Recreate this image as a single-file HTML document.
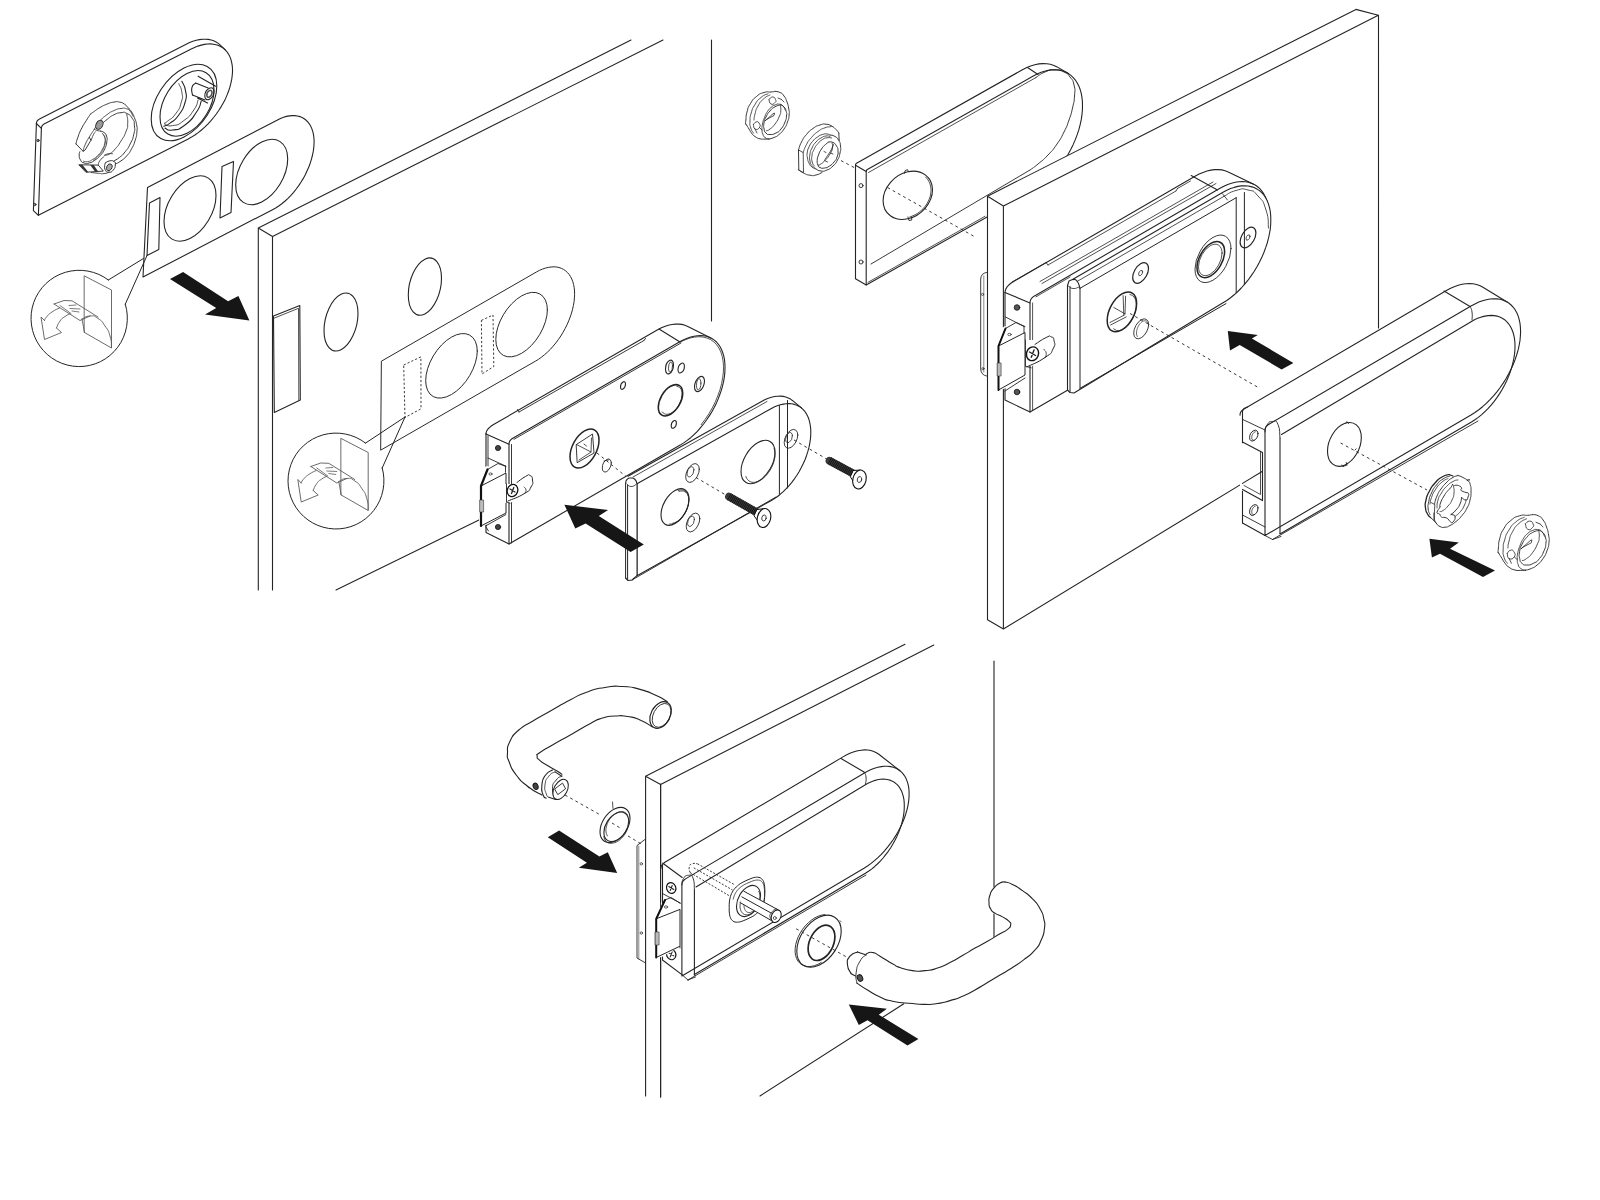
<!DOCTYPE html>
<html><head><meta charset="utf-8"><title>Lock assembly diagram</title>
<style>html,body{margin:0;padding:0;background:#fff}svg{display:block}</style></head>
<body>
<svg width="1600" height="1200" viewBox="0 0 1600 1200" fill="none" stroke="#242424" stroke-width="1.1" stroke-linecap="round" stroke-linejoin="round">
<rect x="0" y="0" width="1600" height="1200" fill="#ffffff" stroke="none"/>
<path d="M258.3,228 L258.3,590 M272.5,236.5 L272.5,590 M258.3,228 L272.5,236.5 M258.3,228 L631,40 M272.5,236.5 L663,40 M711.5,40 L711.5,321 M336,590 L481,519" fill="none"/>
<polygon points="273.5,316 299.8,305.5 300.3,400 274.3,412.5" fill="none"/>
<polyline points="274.5,318 298.5,308.3 298.8,400" fill="none" stroke-width="0.8"/>
<ellipse cx="0" cy="0" rx="17" ry="27.7" transform="matrix(1,-0.500,0.000,1,341,322)" vector-effect="non-scaling-stroke" fill="none"/>
<ellipse cx="0" cy="0" rx="16.6" ry="27.4" transform="matrix(1,-0.500,0.000,1,424.9,286.6)" vector-effect="non-scaling-stroke" fill="none"/>
<polygon points="381.7,361 536.4,272 539.4,270.4 542.4,269.1 545.4,268.1 548.3,267.4 551.1,267 553.9,266.8 556.5,267 559,267.5 561.3,268.3 563.5,269.4 565.6,270.8 567.4,272.5 569.1,274.4 570.5,276.6 571.8,279 572.8,281.7 573.6,284.6 574.2,287.7 574.5,291 574.6,294.4 574.4,297.9 574.1,301.6 573.4,305.4 572.6,309.2 571.5,313.1 570.2,317 568.7,320.9 567,324.8 565.1,328.6 563,332.3 560.8,336 558.4,339.5 555.9,342.9 553.2,346.1 550.5,349.2 547.6,352 544.7,354.6 541.7,357 538.7,359.2 535.7,361 381,450" fill="none" stroke-width="1" stroke="#2a2a2a"/>
<ellipse cx="0" cy="0" rx="25.8" ry="28.7" transform="matrix(1,-0.575,0.000,1,451.5,365.8)" vector-effect="non-scaling-stroke" fill="none" stroke-width="1" stroke="#2a2a2a"/>
<ellipse cx="0" cy="0" rx="25.8" ry="28.7" transform="matrix(1,-0.575,0.000,1,521.6,324.6)" vector-effect="non-scaling-stroke" fill="none" stroke-width="1" stroke="#2a2a2a"/>
<polygon points="403.7,365 420.9,356.9 421,408.8 405,417.5" fill="none" stroke-width="0.9" stroke-dasharray="2.2 2" stroke-linecap="butt"/>
<polygon points="481.4,320.4 493,315 493.8,366.5 482,374" fill="none" stroke-width="0.9" stroke-dasharray="2.2 2" stroke-linecap="butt"/>
<path d="M382.2,467.9 A48.0,48.0 0 1 1 365.5,443.1" fill="none" stroke-width="1"/>
<path d="M365.5,443.1 L405,417 M382.2,468 L405,417" fill="none" stroke-width="1"/>
<polygon points="341.2,438.5 368.2,452.5 368.2,510.5 341.2,495" fill="none" stroke-width="0.9" stroke="#5a5a5a"/>
<path d="M338.8,481.5 C341.4,480.5 341.4,478.7 346.8,478.5 C352.1,478.3 349.8,477.7 354.8,481 C359.8,484.3 357.8,482.7 361.8,488.5 C365.8,494.3 364.6,491.3 366.8,498.5 C368.9,505.7 367.8,506.2 368.2,510" fill="none" stroke-width="0.9" stroke="#5a5a5a"/>
<polyline points="338.8,481.5 341.2,495" fill="none" stroke-width="0.9" stroke="#5a5a5a"/>
<polyline points="310.8,466.5 320.8,463 328.8,463.3 354.8,479.5" fill="none" stroke-width="0.9" stroke="#5a5a5a"/>
<polyline points="310.8,466.5 336.8,483 346.8,478.5" fill="none" stroke-width="0.9" stroke="#5a5a5a"/>
<path d="M316.8,468 L327.8,476 M325.8,468 L332.8,467.5 M326.8,471 L336.8,471.5 M328.8,473.5 L335.8,474.5" fill="none" stroke-width="0.8" stroke="#5a5a5a"/>
<path d="M316.2,470.5 C313.8,471.8 313.1,471.5 308.8,474.5 C304.4,477.5 305.8,476.7 303.2,479.5 C300.8,482.3 301.9,481.8 301.2,483" fill="none" stroke-width="0.9" stroke="#5a5a5a"/>
<polyline points="301.2,483 297.8,479.5 301.2,502 318.2,495 313.2,490.5" fill="none" stroke-width="0.9" stroke="#5a5a5a"/>
<path d="M313.2,490.5 C314.4,488.2 313.9,487.3 316.8,483.5 C319.6,479.7 318.4,481.4 321.8,479 C325.1,476.6 325.1,477.2 326.8,476.3" fill="none" stroke-width="0.9" stroke="#5a5a5a"/>
<polygon points="147.5,187.5 277.5,119.9 280.5,118.5 283.5,117.3 286.5,116.4 289.4,115.9 292.2,115.6 294.8,115.6 297.4,116 299.9,116.6 302.1,117.5 304.2,118.8 306.2,120.3 307.9,122 309.5,124.1 310.8,126.4 311.9,128.9 312.8,131.7 313.5,134.6 313.9,137.7 314.1,141 314,144.5 313.7,148.1 313.2,151.7 312.4,155.5 311.4,159.3 310.2,163.2 308.8,167 307.1,170.8 305.3,174.7 303.3,178.4 301.1,182 298.7,185.6 296.2,189 293.6,192.3 290.9,195.4 288,198.3 285.1,201 282.1,203.5 279.1,205.7 276.1,207.7 273,209.4 143,277" fill="none"/>
<polygon points="149.5,203 160,197.5 158.8,249.5 147,255.5" fill="none"/>
<polygon points="222,166.5 233.5,161.5 231,212.5 220,218" fill="none"/>
<ellipse cx="0" cy="0" rx="26" ry="30" transform="matrix(1,-0.500,0.000,1,190,208.5)" vector-effect="non-scaling-stroke" fill="none"/>
<ellipse cx="0" cy="0" rx="26" ry="30" transform="matrix(1,-0.500,0.000,1,261.7,172)" vector-effect="non-scaling-stroke" fill="none"/>
<path d="M125.3,304.2 A48.2,48.2 0 1 1 108.4,280.0" fill="none" stroke-width="1"/>
<path d="M108.3,280 L143.5,258.5 M125.3,304.2 L147,255.5" fill="none" stroke-width="1"/>
<polygon points="84.5,276 111.5,290 111.5,348 84.5,332.5" fill="none" stroke-width="0.9" stroke="#5a5a5a"/>
<path d="M82,319 C84.7,318 84.7,316.2 90,316 C95.3,315.8 93,315.2 98,318.5 C103,321.8 101,320.2 105,326 C109,331.8 107.8,328.8 110,336 C112.2,343.2 111,343.7 111.5,347.5" fill="none" stroke-width="0.9" stroke="#5a5a5a"/>
<polyline points="82,319 84.5,332.5" fill="none" stroke-width="0.9" stroke="#5a5a5a"/>
<polyline points="54,304 64,300.5 72,300.8 98,317" fill="none" stroke-width="0.9" stroke="#5a5a5a"/>
<polyline points="54,304 80,320.5 90,316" fill="none" stroke-width="0.9" stroke="#5a5a5a"/>
<path d="M60,305.5 L71,313.5 M69,305.5 L76,305 M70,308.5 L80,309 M72,311 L79,312" fill="none" stroke-width="0.8" stroke="#5a5a5a"/>
<path d="M59.5,308 C57,309.3 56.3,309 52,312 C47.7,315 49,314.2 46.5,317 C44,319.8 45.2,319.3 44.5,320.5" fill="none" stroke-width="0.9" stroke="#5a5a5a"/>
<polyline points="44.5,320.5 41,317 44.5,339.5 61.5,332.5 56.5,328" fill="none" stroke-width="0.9" stroke="#5a5a5a"/>
<path d="M56.5,328 C57.7,325.7 57.2,324.8 60,321 C62.8,317.2 61.7,318.9 65,316.5 C68.3,314.1 68.3,314.7 70,313.8" fill="none" stroke-width="0.9" stroke="#5a5a5a"/>
<polygon points="36.4,123.5 36.5,122.6 36.8,121.7 37.2,120.9 37.8,120.2 38.6,119.6 39.5,119 186.2,44.2 189.6,42.6 192.9,41.3 196.2,40.3 199.4,39.6 202.6,39.3 205.6,39.2 208.4,39.4 211.2,40 213.7,40.8 216.1,42 218.3,43.4 220.3,45.2 225.3,49.9 226.5,51.3 227.7,52.8 228.7,54.4 229.6,56.2 230.4,58 231.1,60 231.6,62 232,64.2 232.3,66.4 232.5,68.8 232.5,71.2 232.4,73.7 232.2,76.2 231.8,78.8 231.3,81.4 230.7,84.1 230,86.8 229.1,89.5 228.2,92.3 227.1,95 225.9,97.8 224.6,100.5 223.2,103.2 221.6,105.9 220,108.5 218.3,111.1 216.5,113.7 214.7,116.2 212.7,118.6 210.7,120.9 208.6,123.2 206.5,125.4 204.3,127.5 202.1,129.5 199.8,131.3 197.5,133.1 195.2,134.7 192.9,136.3 190.5,137.7 188.2,138.9 38.4,215.3 33.4,210.6" fill="#fff" stroke="none"/>
<polyline points="36.4,123.5 36.5,122.6 36.8,121.7 37.2,120.9 37.8,120.2 38.6,119.6 39.5,119 186.2,44.2 189.6,42.6 192.9,41.3 196.2,40.3 199.4,39.6 202.6,39.3 205.6,39.2 208.4,39.4 211.2,40 213.7,40.8 216.1,42 218.3,43.4 220.3,45.2 225.3,49.9" fill="none"/>
<polyline points="36.4,123.5 33.4,210.6 38.4,215.3" fill="none"/>
<path d="M36.4,123.5 L41.4,128.3" fill="none"/>
<polygon points="41.4,128.3 41.5,127.3 41.8,126.5 42.2,125.7 42.8,125 43.6,124.3 44.5,123.8 191.2,48.9 194.6,47.4 197.9,46.1 201.2,45.1 204.4,44.4 207.5,44 210.5,43.9 213.4,44.2 216.1,44.7 218.6,45.5 221,46.7 223.2,48.1 225.2,49.8 227,51.8 228.5,54.1 229.8,56.6 230.9,59.3 231.6,62.2 232.2,65.4 232.5,68.7 232.5,72.1 232.2,75.7 231.7,79.4 230.9,83.2 229.9,87.1 228.6,91 227.1,94.9 225.4,98.9 223.4,102.7 221.2,106.6 218.9,110.3 216.3,114 213.6,117.5 210.8,120.9 207.8,124.1 204.7,127.2 201.5,130 198.2,132.6 194.9,135 191.5,137.1 188.2,138.9 38.4,215.3" fill="none"/>
<circle cx="38" cy="140.5" r="1.2" fill="#999" stroke="#222" stroke-width="0.8"/><circle cx="34.8" cy="204.5" r="1.2" fill="#999" stroke="#222" stroke-width="0.8"/>
<ellipse cx="0" cy="0" rx="32.8" ry="34.4" transform="matrix(1,-0.500,0.000,1,184,102.5)" vector-effect="non-scaling-stroke" fill="none"/>
<ellipse cx="0" cy="0" rx="27" ry="29.9" transform="matrix(1,-0.500,0.000,1,187,103.4)" vector-effect="non-scaling-stroke" fill="none"/>
<path d="M181.9,81.2 C183.1,84.6 184.6,84.2 185.6,91.2 C186.7,98.3 187.3,94.6 185,102.5 C182.7,110.4 183.8,108.1 178.8,115 C173.8,121.9 175,119.4 170,123.1 C165,126.9 165.8,125.2 163.8,126.2" fill="none"/>
<path d="M178.8,83.8 C179.8,86.7 181,86.2 181.9,92.5 C182.7,98.8 183.3,95.4 181.2,102.5 C179.2,109.6 180.2,107.5 175.6,113.8 C171,120 171.2,118.1 167.5,121.2 C163.8,124.4 165.4,122.5 164.4,123.1" fill="none" stroke-width="0.8"/>
<path d="M165,128.1 C167.5,128.8 165.8,131 172.5,130 C179.2,129 177.1,130.8 185,125 C192.9,119.2 190.8,120.4 196.2,112.5 C201.7,104.6 199.6,105 201.2,101.2" fill="none"/>
<path d="M164.4,123.8 C167.1,124.4 166,126.7 172.5,125.6 C179,124.6 176.7,125.8 183.8,120.6 C190.8,115.4 189,116.9 193.8,110 C198.5,103.1 196.7,103.3 198.1,100" fill="none" stroke-width="0.8"/>
<path d="M195.6,83.1 C194.4,84.6 192.9,83.5 191.9,87.5 C190.8,91.5 192.3,92.5 192.5,95" fill="none"/>
<path d="M195.6,83.1 L208.1,88.1 M192.5,95 L205,100 M198.1,76.2 L215.6,86.2 M197.5,98.1 L207.5,103.1" fill="none"/>
<ellipse cx="0" cy="0" rx="4.6" ry="5.5" transform="matrix(1,-0.500,0.000,1,209.4,93.8)" vector-effect="non-scaling-stroke" fill="none"/>
<ellipse cx="0" cy="0" rx="2.6" ry="3.2" transform="matrix(1,-0.500,0.000,1,209.4,93.8)" vector-effect="non-scaling-stroke" fill="none" stroke-width="1.6" stroke="#555"/>
<path d="M76,143.9 C76.6,141.7 76,142.5 77.8,137.5 C79.6,132.5 78.5,134.7 81.3,129 C84.2,123.3 83.2,125.5 86.3,120.5 C89.4,115.5 89.1,116.2 90.5,114.1" fill="none" stroke-width="0.9"/>
<path d="M90.5,114.1 C91.5,113.4 90.3,114.1 93.4,112 C96.4,109.9 95.3,110.3 99.7,107.7 C104.2,105.2 102.1,106.1 106.8,104.2 C111.5,102.3 109.7,102.8 113.9,102.1 C118.2,101.4 116,101.4 119.6,102.1 C123.1,102.8 121.7,102.3 124.5,104.2 C127.4,106.1 125.7,105.2 128.1,107.7 C130.4,110.3 129.5,108.7 131.6,112 C133.7,115.3 132.8,113.4 134.4,117.7 C136.1,121.9 135.7,120 136.6,124.7 C137.4,129.5 137.4,126.6 136.9,131.8 C136.5,137 136.9,134.7 135.2,140.3 C133.4,146 134.4,143.6 131.6,148.8 C128.8,154 130.2,151.9 126.7,155.9 C123.1,159.9 124.8,158.1 121,160.9 C117.2,163.6 117.2,163 115.3,164.1" fill="none" stroke-width="0.9"/>
<polyline points="76,143.9 83.1,151.3 85.2,149.9 90.9,140.3 89.5,137.5" fill="none" stroke-width="0.9"/>
<path d="M83.1,151.3 C83.8,149.1 83,149.7 85.2,144.6 C87.5,139.5 86.8,141.2 89.8,136.1 C92.9,131 92.9,131.6 94.4,129.3" fill="none" stroke-width="0.8"/>
<path d="M94.4,129 C96.2,126.4 95.6,125.9 99.7,121.2 C103.9,116.5 102.1,118.4 106.8,114.8 C111.5,111.3 109.2,112.7 113.9,110.6 C118.6,108.5 116.7,109 121,108.5 C125.2,107.9 123.6,107.9 126.7,108.8 C129.7,109.8 128.1,108.8 130.2,111.3 C132.3,113.8 132.1,114.6 133,116.2" fill="none" stroke-width="0.8"/>
<path d="M102.6,123.3 C104.2,121.9 103.8,121.9 107.5,119.1 C111.3,116.2 109.4,117 113.9,114.8 C118.4,112.7 116.7,113.2 121,112.7 C125.2,112.2 122.9,111.5 126.7,113.4 C130.4,115.3 129.7,114.4 132.3,118.4 C134.9,122.4 134,120 134.4,125.5 C134.9,130.9 135.2,128.5 133.7,134.7 C132.3,140.8 133,138.2 130.2,143.9 C127.4,149.5 128.8,147.2 125.2,151.7 C121.7,156.1 123.4,154.3 119.6,157.3 C115.8,160.4 115.8,159.7 113.9,160.9" fill="none" stroke-width="0.9"/>
<path d="M126.7,114.1 C127,117.2 128,117.4 127.7,123.3 C127.5,129.2 128.2,125.9 125.9,131.8 C123.7,137.7 124.5,135.4 121,141 C117.5,146.7 119.1,144.6 115.3,148.8 C111.5,153.1 113.2,151.7 109.7,153.8 C106.1,155.9 106.4,154.7 104.7,155.2" fill="none" stroke-width="0.8"/>
<ellipse cx="99.4" cy="124.8" rx="3.3" ry="4.8" transform="rotate(28 99.4 124.8)" fill="#999" stroke="#222" stroke-width="0.9"/>
<path d="M100.5,131.1 C101.6,131.6 102,130.9 104,132.5 C106,134.2 105.5,133 106.5,136.1 C107.4,139.1 107.4,137.5 106.8,141.7 C106.2,146 106.8,144.3 104.7,148.8 C102.6,153.3 103.8,151.4 100.5,155.2 C97.1,159 98.6,157.6 94.8,160.2 C91,162.8 92.7,162 89.1,163 C85.6,163.9 87,163.9 84.2,163 C81.3,162 82.3,162.8 80.6,160.2 C79,157.6 79.4,158 79.2,155.2 C79,152.4 79.7,152.8 79.9,151.7" fill="none" stroke-width="0.9"/>
<path d="M102.2,133.2 C103.1,134.7 103.9,134.2 104.7,137.5 C105.5,140.8 105.5,139.1 104.7,143.2 C103.9,147.2 104.5,145.5 102.2,149.5 C100,153.5 101.2,151.9 98,155.2 C94.8,158.5 96.1,157.3 92.7,159.4 C89.2,161.6 90.8,161 87.7,161.6 C84.6,162.2 84.9,161.3 83.5,161.2" fill="none" stroke-width="0.7"/>
<path d="M103.3,134.7 C104,136.5 105.4,135.6 105.4,140.3 C105.4,145 105.4,143.9 103.3,148.8 C101.2,153.8 102.3,151.4 99,155.2 C95.7,159 95.3,158.5 93.4,160.2" fill="none" stroke-width="0.6"/>
<path d="M94.4,129.3 C95.3,129.7 94.9,129.8 96.9,130.4 C98.9,131 99.3,130.9 100.5,131.1" fill="none" stroke-width="0.8"/>
<path d="M91.2,140.3 C92,138.4 92,137.5 93.4,134.7 C94.8,131.8 94.8,132.8 95.5,131.8" fill="none" stroke-width="0.8"/>
<path d="M104.7,155.2 C105.9,154.7 105.6,154.3 108.2,153.8 C110.8,153.3 111.1,153.8 112.5,153.8" fill="none" stroke-width="0.8"/>
<path d="M104,156.6 C102.6,158 101.6,158 99.7,160.9 C97.9,163.7 98.8,163.7 98.3,165.1" fill="none" stroke-width="0.8"/>
<path d="M105.4,163 C106.8,162.3 106.8,161.3 109.7,160.9 C112.5,160.4 112,160.3 113.9,161.6 C115.8,162.9 115.6,161.9 115.3,164.8 C115.1,167.6 115.3,167.6 113.2,170.1 C111.1,172.5 111.5,172.2 109,172.2 C106.4,172.2 106.8,172.2 105.4,170.1 C104,167.9 104.7,168.2 104.7,165.8 C104.7,163.5 105.2,163.9 105.4,163" fill="none" stroke-width="0.9"/>
<ellipse cx="109.3" cy="167.3" rx="2.6" ry="3.6" transform="rotate(28 109.3 167.3)" fill="#aaa" stroke="#222" stroke-width="0.8"/>
<polygon points="79.2,164.8 98.3,165.1 103.3,171.1 86.3,172.2" fill="none" stroke-width="0.9"/>
<polygon points="79.2,164.8 82.4,164.8 88.4,172.2 86.3,172.2" fill="#333" stroke="none"/>
<polygon points="90.2,165.1 93.7,165.1 98.3,171.8 95.1,171.8" fill="#333" stroke="none"/>
<path d="M109,172.2 C107.3,172.7 107.5,173.3 104,173.6 C100.5,174 102.6,173.6 98.3,173.3 C94.1,172.9 93.6,172.8 91.2,172.5" fill="none" stroke-width="0.8"/>
<polygon points="183.1,271.9 170,279.1 216.2,308.1 205,314.4 249.4,320.6 238.4,295.9 228.1,301.2" fill="#161616" stroke="none"/>
<polygon points="486,433.9 486.2,432.2 486.9,430.6 488,429 489.6,427.4 491.6,425.8 494,424.3 657.2,330.1 660.9,328.1 664.6,326.5 668.3,325.3 671.9,324.5 675.4,324.1 678.7,324.1 681.9,324.4 684.9,325.2 687.8,326.4 710.8,337.9 712.7,339 714.5,340.2 716.1,341.7 717.7,343.3 719.1,345.2 720.3,347.2 721.4,349.3 722.4,351.7 723.2,354.1 723.9,356.7 724.4,359.5 724.8,362.3 725,365.3 725,368.4 724.9,371.5 724.6,374.8 724.2,378.1 723.6,381.4 722.8,384.8 721.9,388.3 720.8,391.7 719.6,395.2 718.3,398.6 716.8,402.1 715.2,405.5 713.5,408.8 711.6,412.1 709.7,415.4 707.6,418.5 705.4,421.6 703.2,424.6 700.8,427.4 698.4,430.1 695.9,432.7 693.4,435.2 690.8,437.5 688.2,439.7 685.5,441.7 682.9,443.5 680.2,445.1 509,543.9 486,532.4" fill="#fff" stroke="none"/>
<polyline points="486,433.9 486.2,432.2 486.9,430.6 488,429 489.6,427.4 491.6,425.8 494,424.3 657.2,330.1 660.9,328.1 664.6,326.5 668.3,325.3 671.9,324.5 675.4,324.1 678.7,324.1 681.9,324.4 684.9,325.2 687.8,326.4 710.8,337.9" fill="none"/>
<polyline points="486,433.9 486,532.4 509,543.9" fill="none"/>
<path d="M486,433.9 L509,444.2" fill="none"/>
<polygon points="509,444.2 509.1,443 509.4,441.8 509.9,440.8 510.7,439.8 511.6,439 512.8,438.2 680.2,341.6 683.7,339.7 687.2,338.2 690.7,337 694,336.2 697.4,335.7 700.5,335.5 703.6,335.7 706.5,336.3 709.3,337.2 711.9,338.5 714.3,340.1 716.5,342 718.4,344.3 720.1,346.8 721.6,349.7 722.8,352.8 723.8,356.1 724.5,359.7 724.9,363.5 725,367.5 724.9,371.6 724.5,375.9 723.8,380.3 722.8,384.8 721.6,389.3 720.1,393.8 718.4,398.4 716.5,402.9 714.3,407.3 711.9,411.7 709.3,415.9 706.5,420 703.6,424 700.5,427.7 697.4,431.3 694,434.6 690.7,437.7 687.2,440.4 683.7,442.9 680.2,445.1 509,543.9" fill="none"/>
<path d="M511.5,444.5 L511.5,543 M514,439.3 L681,343" fill="none" stroke-width="0.9"/>
<polyline points="680.3,342 685.1,339.8 689.8,338.1 694.4,337.1 698.8,336.7 703,337 706.9,338 710.5,339.5 713.7,341.8 716.5,344.6 718.9,348 720.8,351.9 722.2,356.3 723.1,361.1 723.5,366.3 723.4,371.9 722.7,377.6 721.6,383.6 720,389.7 717.8,395.8 715.3,401.9 712.3,407.9 708.9,413.8 705.1,419.4 701.1,424.7" fill="none" stroke-width="0.8"/>
<path d="M659,329 L680,342" fill="none"/>
<path d="M519,412 L644,340.5 M644,340.5 L645.5,338.5 M519,412 L517.5,409.5" fill="none" stroke-width="0.9"/>
<ellipse cx="0" cy="0" rx="4" ry="6.5" transform="matrix(1,-0.577,0.000,1,669.5,367)" vector-effect="non-scaling-stroke" fill="none"/>
<ellipse cx="0" cy="0" rx="2" ry="5" transform="matrix(1,-0.577,0.000,1,670.5,367)" vector-effect="non-scaling-stroke" fill="none" stroke-width="0.8"/>
<ellipse cx="0" cy="0" rx="3.2" ry="4.6" transform="matrix(1,-0.577,0.000,1,681.2,368)" vector-effect="non-scaling-stroke" fill="none"/>
<ellipse cx="0" cy="0" rx="5" ry="7" transform="matrix(1,-0.577,0.000,1,699.5,384)" vector-effect="non-scaling-stroke" fill="none"/>
<ellipse cx="0" cy="0" rx="2.2" ry="5.5" transform="matrix(1,-0.577,0.000,1,698.7,384.3)" vector-effect="non-scaling-stroke" fill="none" stroke-width="0.8"/>
<ellipse cx="0" cy="0" rx="2.5" ry="3.6" transform="matrix(1,-0.577,0.000,1,623,385.5)" vector-effect="non-scaling-stroke" fill="none"/>
<ellipse cx="0" cy="0" rx="2.6" ry="3.6" transform="matrix(1,-0.577,0.000,1,673.8,424.4)" vector-effect="non-scaling-stroke" fill="none"/>
<ellipse cx="0" cy="0" rx="12.2" ry="14" transform="matrix(1,-0.577,0.000,1,670.5,400.3)" vector-effect="non-scaling-stroke" fill="none" stroke-width="1.6"/>
<polyline points="676.8,386.3 678.1,386.6 679.3,387.3 680.3,388.2 681.1,389.4 681.7,390.9 682,392.6 682.1,394.5 681.9,396.5 681.5,398.6 680.9,400.7 680,402.8 679,404.9 677.8,406.8 676.4,408.7 674.9,410.3 673.3,411.6 671.7,412.8 670.1,413.6 668.5,414.1 667,414.3 665.6,414.2 664.3,413.7 663.2,413 662.3,411.9" fill="none" stroke-width="0.8"/>
<ellipse cx="0" cy="0" rx="14.5" ry="17.6" transform="matrix(1,-0.577,0.000,1,584.5,448.5)" vector-effect="non-scaling-stroke" fill="none" stroke-width="1.5"/>
<polygon points="576.5,444.5 592.5,434 594,453 577.5,462.5" fill="none" stroke-width="0.9"/>
<polyline points="579,460 591,452 591.5,438" fill="none" stroke-width="0.8"/>
<path d="M576.5,444.5 L591,452 M584,444 L586.5,446" fill="none" stroke-width="0.8"/>
<ellipse cx="0" cy="0" rx="4.5" ry="6" transform="matrix(1,-0.577,0.000,1,606.8,465.5)" vector-effect="non-scaling-stroke" fill="none" stroke-width="0.9"/>
<path d="M604,461 L608.5,460" fill="none" stroke-width="0.8"/>
<circle cx="498" cy="448" r="2.6" fill="#444" stroke="#111" stroke-width="0.8"/>
<circle cx="498" cy="527" r="2.6" fill="#444" stroke="#111" stroke-width="0.8"/>
<path d="M488,458 L505.5,466 M505.5,466 L505.5,484 M488,436 L488,470" fill="none" stroke-width="0.9"/>
<polygon points="479,470 487,466 506.5,473 506.5,513 488,524 479,528" fill="#fff" stroke="none"/>
<polyline points="487.5,469.5 498,463.5 506,466.5" fill="none" stroke-width="0.9"/>
<polyline points="487.5,469.5 481,486 506,473 506,513 481,526" fill="none" stroke-width="1"/>
<polyline points="487.5,469.5 481,486 481,526" fill="none" stroke-width="2.2" stroke="#111"/>
<rect x="480" y="500" width="3.6" height="12" fill="#bbb" stroke="#333" stroke-width="0.6"/>
<ellipse cx="490.5" cy="474" rx="1.6" ry="1.1" fill="#fff" stroke="#222" stroke-width="0.7"/>
<path d="M486,527 L488.5,531 M485.5,526 L506,514.5" fill="none" stroke-width="0.9"/>
<polygon points="505,484 513,484 513,502 505,503" fill="#fff" stroke="none"/>
<path d="M508,501 C513.5,498.5 516.8,498.2 524.5,493.5 C532.2,488.8 528.3,491.5 531,487 C533.7,482.5 532.8,483.8 532.5,480 C532.2,476.2 532.3,476.7 530,475.5 C527.7,474.3 529.8,474.2 525.5,476.5 C521.2,478.8 519.8,480.5 517,482.5" fill="none" stroke-width="1"/>
<path d="M524.5,493.5 C525,492.3 526.2,492.2 526,490 C525.8,487.8 524.7,488 524,487" fill="none" stroke-width="0.8"/>
<polyline points="506.5,502 510,503.2" fill="none" stroke-width="0.9"/>
<polyline points="506.5,484 506.5,502" fill="none" stroke-width="0.9"/>
<ellipse cx="512.5" cy="490.5" rx="5.2" ry="6.2" transform="rotate(20 512.5 490.5)" fill="#fff" stroke="#111" stroke-width="1.3"/>
<path d="M510,489 L515,492 M511.5,493.5 L513.8,487.5" fill="none" stroke-width="1.3"/>
<polygon points="628,476.2 762,401.2 765.2,399.6 768.3,398.2 771.5,397.2 774.5,396.5 777.5,396.2 780.4,396.1 783.1,396.4 785.8,397 788.2,397.9 790.5,399.1 792.7,400.7 801.7,408.2 803.1,409.5 804.3,410.9 805.5,412.4 806.6,414.1 807.5,415.9 808.4,417.9 809.1,420 809.7,422.1 810.2,424.4 810.5,426.8 810.7,429.3 810.8,431.8 810.8,434.4 810.6,437.1 810.3,439.8 809.9,442.6 809.4,445.5 808.7,448.3 808,451.2 807.1,454.1 806,457 804.9,459.9 803.7,462.7 802.3,465.6 800.9,468.4 799.4,471.1 797.7,473.9 796,476.5 794.2,479.1 792.4,481.6 790.4,484 788.4,486.3 786.4,488.5 784.3,490.7 782.1,492.7 779.9,494.5 777.7,496.3 775.5,497.9 773.3,499.4 771,500.7 637,575.8 628,568.2" fill="#fff" stroke="none"/>
<polyline points="628,476.2 762,401.2 765.2,399.6 768.3,398.2 771.5,397.2 774.5,396.5 777.5,396.2 780.4,396.1 783.1,396.4 785.8,397 788.2,397.9 790.5,399.1 792.7,400.7 801.7,408.2" fill="none"/>
<polygon points="637,483.8 771,408.7 774.1,407.1 777.2,405.8 780.3,404.8 783.3,404.1 786.2,403.7 789.1,403.6 791.8,403.8 794.4,404.4 796.9,405.2 799.2,406.4 801.3,407.9 803.2,409.6 805,411.7 806.5,413.9 807.8,416.5 808.9,419.3 809.7,422.3 810.3,425.5 810.7,428.9 810.8,432.4 810.7,436.1 810.3,439.9 809.7,443.8 808.9,447.7 807.8,451.7 806.5,455.7 805,459.7 803.2,463.7 801.3,467.6 799.2,471.5 796.9,475.2 794.4,478.8 791.8,482.3 789.1,485.6 786.2,488.7 783.3,491.6 780.3,494.2 777.2,496.7 774.1,498.8 771,500.7 637,575.8" fill="none"/>
<polygon points="625.5,483 631,478 637,483.8 637,575.6 631,580 625.5,578" fill="#fff" stroke="none"/>
<path d="M625.6,483.5 L625.6,578 M627.6,485 L627.6,579.5 M637,483.8 L637,575.6" fill="none" stroke-width="1"/>
<path d="M625.6,483.5 C626.1,482.2 625.2,481.3 627,479.5 C628.8,477.7 628.3,478 631,478 C633.7,478 633,477.6 635,479.5 C637,481.4 636.3,482.3 637,483.8" fill="none"/>
<path d="M627,484 C628.3,484.8 628,486.3 631,486.5 C634,486.7 634.3,485.2 636,484.5" fill="none" stroke-width="0.8"/>
<polyline points="625.6,578 628,580.5 632,580 637,575.6" fill="none"/>
<path d="M633,477 L767,401.5" fill="none" stroke-width="0.8"/>
<path d="M632,580 L776,497" fill="none" stroke-width="0.9"/>
<path d="M779.4,405.5 L779.4,494 M787.5,400.5 L787.5,488" fill="none" stroke-width="1"/>
<ellipse cx="0" cy="0" rx="17" ry="19.5" transform="matrix(1,-0.560,0.000,1,758,462)" vector-effect="non-scaling-stroke" fill="none"/>
<polyline points="774.1,448.5 774.6,450.4 774.9,452.6 775,454.9 774.8,457.4 774.3,459.9 773.6,462.5 772.7,465.1 771.5,467.6 770.1,470.1 768.6,472.4 766.9,474.6 765.1,476.5 763.2,478.3 761.3,479.7 759.3,480.8 757.4,481.7 755.5,482.2 753.7,482.4 751.9,482.2 750.4,481.7 748.9,480.9 747.7,479.7 746.7,478.3 745.9,476.5" fill="none" stroke-width="0.8"/>
<ellipse cx="0" cy="0" rx="14" ry="16.5" transform="matrix(1,-0.560,0.000,1,675,507)" vector-effect="non-scaling-stroke" fill="none"/>
<polyline points="678.2,490.5 680,490 681.7,489.9 683.3,490.2 684.8,490.8 686,491.8 687.1,493 687.9,494.6 688.5,496.5 688.8,498.5 688.8,500.7 688.5,503.1 688,505.6 687.3,508 686.3,510.5 685.1,512.9 683.6,515.2 682.1,517.2 680.4,519.1 678.6,520.7 676.7,522.1 674.9,523.1 673,523.7 671.3,524.1 669.6,524" fill="none" stroke-width="0.8"/>
<polyline points="679,491.5 680.6,491.1 682.1,491 683.6,491.2 684.8,491.7 686,492.5 687,493.6 687.7,494.9 688.3,496.5 688.7,498.2 688.8,500.2 688.7,502.2 688.4,504.4 687.9,506.6 687.1,508.8 686.2,511 685.1,513.1 683.8,515.1 682.4,516.9 681,518.5 679.4,520 677.8,521.1 676.1,522 674.5,522.7 673,523" fill="none" stroke-width="0.7"/>
<ellipse cx="0" cy="0" rx="6.8" ry="8.6" transform="matrix(1,-0.560,0.000,1,791,438.8)" vector-effect="non-scaling-stroke" fill="none" stroke-width="0.9"/>
<ellipse cx="0" cy="0" rx="3.4" ry="4.8" transform="matrix(1,-0.560,0.000,1,789,437.6)" vector-effect="non-scaling-stroke" fill="none" stroke-width="0.8"/>
<ellipse cx="0" cy="0" rx="6.8" ry="8.6" transform="matrix(1,-0.560,0.000,1,692.5,473)" vector-effect="non-scaling-stroke" fill="none" stroke-width="0.9"/>
<ellipse cx="0" cy="0" rx="3.4" ry="4.8" transform="matrix(1,-0.560,0.000,1,690.5,471.8)" vector-effect="non-scaling-stroke" fill="none" stroke-width="0.8"/>
<ellipse cx="0" cy="0" rx="6.8" ry="8.6" transform="matrix(1,-0.560,0.000,1,693,522.5)" vector-effect="non-scaling-stroke" fill="none" stroke-width="0.9"/>
<ellipse cx="0" cy="0" rx="3.4" ry="4.8" transform="matrix(1,-0.560,0.000,1,691,521.3)" vector-effect="non-scaling-stroke" fill="none" stroke-width="0.8"/>
<path d="M729.0,496.6 L758.8,513.5" stroke="#3a3a3a" stroke-width="7.8" stroke-linecap="round" fill="none"/>
<path d="M729.0,496.6 L758.8,513.5" stroke="#111" stroke-width="7.8" stroke-dasharray="0.8 1.0" stroke-linecap="butt" fill="none"/>
<polygon points="757.2,509.5 765,508.5 762.5,527.5 754.2,516" fill="#fff" stroke="#111" stroke-width="1"/>
<ellipse cx="764.0" cy="518.0" rx="6.6" ry="9.6" transform="rotate(14 764.0 518.0)" fill="#fff" stroke="#111" stroke-width="1.1"/>
<ellipse cx="764.0" cy="518.0" rx="2.2" ry="3" transform="rotate(14 764.0 518.0)" fill="none" stroke="#222" stroke-width="0.8"/>
<path d="M829.5,460.8 L855.0,474.5" stroke="#3a3a3a" stroke-width="7.8" stroke-linecap="round" fill="none"/>
<path d="M829.5,460.8 L855.0,474.5" stroke="#111" stroke-width="7.8" stroke-dasharray="0.8 1.0" stroke-linecap="butt" fill="none"/>
<polygon points="853.5,470.5 860.5,470 858,489 850.5,477" fill="#fff" stroke="#111" stroke-width="1"/>
<ellipse cx="859.5" cy="479.5" rx="6.6" ry="9.6" transform="rotate(14 859.5 479.5)" fill="#fff" stroke="#111" stroke-width="1.1"/>
<ellipse cx="859.5" cy="479.5" rx="2.2" ry="3" transform="rotate(14 859.5 479.5)" fill="none" stroke="#222" stroke-width="0.8"/>
<path d="M696,477.5 L727.5,496 M794,440 L827,459.2 M597,453 L626,476.5" fill="none" stroke-width="0.9" stroke-dasharray="2.8 3.2" stroke-linecap="butt"/>
<polygon points="564.4,504.7 608.1,510 598.8,515.9 643.8,544.4 630.6,551.9 585.6,523.4 575.3,528.4" fill="#161616" stroke="none"/>
<polygon points="855.5,165.2 855.5,164.8 855.7,164.3 855.9,163.9 856.2,163.5 856.5,163.2 857,162.9 1022,70 1026.3,67.8 1030.6,66 1034.8,64.7 1038.9,63.9 1042.9,63.6 1046.8,63.7 1050.4,64.3 1053.9,65.4 1057.1,66.9 1067.8,73.2 1069.8,74.5 1071.7,76 1073.5,77.8 1075.1,79.7 1076.6,81.8 1077.9,84.1 1079.1,86.5 1080.1,89.2 1080.9,91.9 1081.6,94.9 1082.1,97.9 1082.4,101.1 1082.5,104.4 1082.5,107.8 1082.3,111.3 1082,114.9 1081.4,118.5 1080.7,122.2 1079.8,126 1078.8,129.7 1077.6,133.5 1076.2,137.3 1074.7,141 1073.1,144.8 1071.3,148.5 1069.4,152.1 1067.3,155.7 1065.1,159.2 1062.9,162.6 1060.5,165.9 1058,169.1 1055.4,172.2 1052.7,175.2 1050,178 1047.2,180.6 1044.4,183.1 1041.5,185.4 1038.6,187.6 1035.7,189.5 1032.8,191.3 866.2,285 855.5,278.8" fill="#fff" stroke="none"/>
<polyline points="855.5,165.2 855.5,164.8 855.7,164.3 855.9,163.9 856.2,163.5 856.5,163.2 857,162.9 1022,70 1026.3,67.8 1030.6,66 1034.8,64.7 1038.9,63.9 1042.9,63.6 1046.8,63.7 1050.4,64.3 1053.9,65.4 1057.1,66.9 1067.8,73.2" fill="none"/>
<polyline points="855.5,165.2 855.5,278.8 866.2,285" fill="none"/>
<path d="M855.5,165.2 L866.2,171.5" fill="none"/>
<polygon points="866.2,171.5 866.3,171 866.4,170.6 866.6,170.2 866.9,169.8 867.3,169.5 867.8,169.2 1032.8,76.3 1036.7,74.2 1040.5,72.6 1044.4,71.3 1048.1,70.4 1051.8,69.9 1055.4,69.8 1058.8,70.1 1062,70.8 1065.1,71.8 1068,73.3 1070.6,75.1 1073,77.3 1075.2,79.8 1077.1,82.7 1078.8,85.9 1080.1,89.3 1081.2,93.1 1081.9,97.1 1082.4,101.3 1082.5,105.7 1082.4,110.3 1081.9,115.1 1081.2,119.9 1080.1,124.9 1078.8,129.9 1077.1,134.9 1075.2,139.9 1073,144.9 1070.6,149.8 1068,154.6 1065.1,159.3 1062,163.8 1058.8,168.1 1055.4,172.3 1051.8,176.2 1048.1,179.8 1044.4,183.1 1040.5,186.2 1036.7,188.9 1032.8,191.3 866.2,285" fill="none"/>
<path d="M868.5,172.5 L1036,77.5 M868,282.3 L985,216.3" fill="none" stroke-width="0.8"/>
<path d="M1036,77.5 C1039,75.7 1038.7,74.6 1045,72 C1051.3,69.4 1048.7,69.8 1055,69.8 C1061.3,69.8 1059,69.6 1064,72 C1069,74.4 1066.7,72.7 1070,77 C1073.3,81.3 1072.5,78.7 1074,85 C1075.5,91.3 1075,88.3 1074.5,96 C1074,103.7 1074.3,100 1072.5,108 C1070.7,116 1071.8,112 1069,120 C1066.2,128 1068,124 1064,132 C1060,140 1062.3,136.3 1057,144 C1051.7,151.7 1054.3,148.3 1048,155 C1041.7,161.7 1044,159 1038,164 C1032,169 1032.7,168 1030,170" fill="none" stroke-width="0.9"/>
<path d="M1030,170 L871,264" fill="none" stroke-width="0.9"/>
<path d="M1027.5,67.5 L1038,74.5" fill="none"/>
<circle cx="861" cy="185.6" r="2" fill="none" stroke="#222" stroke-width="0.9"/><circle cx="861" cy="262" r="2" fill="none" stroke="#222" stroke-width="0.9"/>
<ellipse cx="0" cy="0" rx="24.7" ry="23.5" transform="matrix(1,-0.220,0.000,1,907.8,195.3)" vector-effect="non-scaling-stroke" fill="none"/>
<polyline points="904.5,173.3 905,170.8 907.5,169.6 908.6,171.8" fill="none" stroke-width="0.9"/>
<polyline points="908,217 909,220.5 911.8,220 911.5,217" fill="none" stroke-width="0.9"/>
<polyline points="925.6,177.1 926.9,178.4 928,179.9 928.9,181.5 929.7,183.2 930.3,185 930.7,186.9 931,188.8 931,190.8 930.8,192.9 930.5,195 930,197 929.2,199.1 928.3,201.1 927.3,203.1 926.1,205 924.7,206.8 923.2,208.6 921.5,210.2 919.8,211.7 917.9,213.1 916,214.3 914,215.3 911.9,216.2 909.8,217" fill="none" stroke-width="0.8"/>
<path d="M775,91.4 C773.7,91.6 774.7,91.6 771,92 C767.3,92.4 768.8,91 764,92.5 C759.2,94 761,92.8 756.5,96.5 C752,100.2 753.7,98.3 750.5,103.5 C747.3,108.7 748.5,106.5 747,112 C745.5,117.5 746.4,116.1 745.9,120 C745.4,123.9 745.7,122.5 745.6,123.8" fill="none" stroke-width="0.9"/>
<path d="M746.5,125 C747.3,126.3 747.3,126.3 749,129 C750.7,131.7 749.5,130.5 751.5,133 C753.5,135.5 752.2,134.6 755,136.5 C757.8,138.4 756.7,137.9 760,138.8 C763.3,139.6 762,139 765,139.1 C768,139.2 767.7,139 769,139" fill="none" stroke-width="0.9"/>
<polyline points="745.6,123.8 746.5,125" fill="none" stroke-width="0.9"/>
<path d="M768,93.8 C765.7,95 765.3,93.9 761,97.5 C756.7,101.1 758.2,99.3 755,104.5 C751.8,109.7 752.9,107.5 751.2,113 C749.6,118.5 750.2,116 750,121 C749.8,126 749.6,124 750.8,128 C751.9,132 752.6,131.3 753.5,133" fill="none" stroke-width="0.8"/>
<path d="M770,95 C767.8,96.3 767.5,95.3 763.5,99 C759.5,102.7 760.8,101 758,106 C755.2,111 756.3,109.3 755,114 C753.7,118.7 754.3,118 754,120" fill="none" stroke-width="0.8"/>
<path d="M775,91.4 C776.7,91.8 777,91 780,92.5 C783,94 781.7,92.8 784,96 C786.3,99.2 785.4,97.7 787,102 C788.6,106.3 788,104.7 788.8,109 C789.5,113.3 789.5,110.7 789.1,115 C788.7,119.3 789.2,117.3 787.5,122 C785.8,126.7 786.8,124.8 784,129 C781.2,133.2 782.3,131.7 779,134.5 C775.7,137.3 777.3,136 774,137.5 C770.7,139 770.7,138.5 769,139" fill="none" stroke-width="0.9"/>
<path d="M769,139 C767.7,138.5 767.1,139.2 765,137.5 C762.9,135.8 763.8,136.7 762.8,134 C761.8,131.3 762.1,132.8 762,129.5 C761.9,126.2 761.7,128 762.5,124 C763.3,120 762.8,121.7 764.5,117.5 C766.2,113.3 765.3,114.8 767.5,111.5 C769.7,108.2 768.5,109.7 771,107.5 C773.5,105.3 772.2,106.1 775,105 C777.8,103.9 776.8,103.9 779.5,104.2 C782.2,104.6 781.1,104.1 783,106 C784.9,107.9 784.5,108.7 785.2,110" fill="none" stroke-width="0.8"/>
<path d="M780.5,105 C781.7,105.7 782.1,104.8 784,107 C785.9,109.2 785.4,108.5 786.2,111.5 C787.1,114.5 786.9,112.5 786.5,116 C786.1,119.5 786.8,117.7 785,122 C783.2,126.3 784,125.3 781,129 C778,132.7 779.7,131.2 776,133 C772.3,134.8 773.3,134.5 770,134.5 C766.7,134.5 768,134.8 766,133 C764,131.2 764.8,132.3 764.1,129 C763.4,125.7 763.4,127 764,123 C764.6,119 764,121 766,117 C768,113 767,114.4 770,111 C773,107.6 771.5,108.8 775,106.8 C778.5,104.8 778.7,105.6 780.5,105" fill="none" stroke-width="0.9"/>
<path d="M780.5,106 C780.6,107.7 781.1,107.7 780.8,111 C780.4,114.3 781.4,111.7 779.5,116 C777.6,120.3 778.2,119.7 775,124 C771.8,128.3 772.9,126.8 770,129 C767.1,131.2 767.5,130.2 766.2,130.8" fill="none" stroke-width="0.8"/>
<polygon points="765.2,120.8 773,113.8 774.5,113 774,115.5 766.5,119.5" fill="none" stroke-width="0.8"/>
<path d="M769,99.5 C770.2,98.7 770.3,97 772.5,97 C774.7,97 774.7,97.7 775.5,99.5 C776.3,101.3 776.5,101 775,102.5 C773.5,104 773,105 771,104 C769,103 769.7,101 769,99.5" fill="none" stroke-width="0.8"/>
<path d="M753.5,124.5 C754.3,123.7 754.2,122.5 756,122 C757.8,121.5 757.8,121.2 759,123 C760.2,124.8 760.8,125.5 759.5,127.5 C758.2,129.5 757,130 755,129 C753,128 754,126 753.5,124.5" fill="none" stroke-width="0.8"/>
<path d="M778,98 L781.5,99.5 M781.5,99.5 L784,102 M759.5,127.5 L762,130 M755,129 L757,133" fill="none" stroke-width="0.8"/>
<path d="M798.5,150 C799.5,147.3 798.8,147.2 801.5,142 C804.2,136.8 802.7,139 806.5,134.5 C810.3,130 808.5,131.7 813,128.5 C817.5,125.3 815.7,126.4 820,125 C824.3,123.6 822.2,123.9 826,124.2 C829.8,124.6 828.2,124.2 831.5,126 C834.8,127.8 833.6,127.2 836,129.5 C838.4,131.8 837.8,131.8 838.8,133" fill="none" stroke-width="0.9"/>
<polyline points="838.8,133 839.2,140.5" fill="none" stroke-width="0.9"/>
<polyline points="798.5,150 798.8,170" fill="none" stroke-width="0.9"/>
<path d="M798.8,170 C800.3,171 799.8,171.2 803.5,173 C807.2,174.8 805.8,174.6 810,175.2 C814.2,175.9 812,175.9 816,175 C820,174.1 820,173.3 822,172.5" fill="none" stroke-width="0.9"/>
<path d="M803.2,152.5 C804.3,149.8 803.8,149.5 806.5,144.5 C809.2,139.5 807.7,141.8 811.5,137.5 C815.3,133.2 813.5,134.8 818,131.5 C822.5,128.2 821,129.3 825,127.8 C829,126.2 827.8,127.3 830,126.8 C832.2,126.2 831,126.2 831.5,126" fill="none" stroke-width="0.8"/>
<polyline points="798.5,150 803.2,152.5 803.5,172.6 798.8,170" fill="none" stroke-width="0.8"/>
<path d="M830,135 C829,134.7 829.5,134.2 827,134 C824.5,133.8 825.7,133.5 822.5,134.5 C819.3,135.5 820.8,134.7 817.5,137 C814.2,139.3 815.3,138.2 812.5,141.5 C809.7,144.8 810.8,143.2 809,147 C807.2,150.8 807.8,149.3 807.2,153 C806.8,156.7 806.9,154.7 807.5,158 C808.1,161.3 807.5,160 809,163 C810.5,166 809.7,165 812,167 C814.3,169 814.7,168.3 816,169" fill="none" stroke-width="0.8"/>
<path d="M830,136.6 C828.7,136.4 829,135.5 826,136 C823,136.5 824.3,136 821,138 C817.7,140 819,138.7 816,142 C813,145.3 814,144 812,148 C810,152 810.7,149.7 810,154 C809.3,158.3 809.3,157.2 810,161 C810.7,164.8 810.3,163.2 812,165.5 C813.7,167.8 814,167.2 815,168" fill="none" stroke-width="0.8"/>
<path d="M831.5,138 C830,137.9 830,137.2 827,137.8 C824,138.2 825.5,137.6 822.5,139.5 C819.5,141.4 820.8,140.2 818,143.5 C815.2,146.8 816,145.5 814,149.5 C812,153.5 812.6,151.3 812,155.5 C811.4,159.7 811.4,158.5 812.2,162 C813.1,165.5 813.8,164.7 814.5,166" fill="none" stroke-width="0.8"/>
<path d="M830,135 C831.7,135.5 832.1,134.7 835,136.5 C837.9,138.3 836.9,137.3 838.8,140.5 C840.6,143.7 840.1,141.8 840.5,146 C840.9,150.2 841,148.3 840,153 C839,157.7 839.8,155.7 837.5,160 C835.2,164.3 836.5,162.7 833,166 C829.5,169.3 831,168.3 827,170 C823,171.7 824.7,171.3 821,171 C817.3,170.7 817.7,169.7 816,169" fill="none" stroke-width="0.9"/>
<path d="M829,142 C830.3,142.2 830.5,141.2 833,142.5 C835.5,143.8 834.8,143.2 836.5,146 C838.2,148.8 837.8,147.3 838,151 C838.2,154.7 838.3,153.3 837,157 C835.7,160.7 836.5,159 834,162 C831.5,165 832.7,164 829.5,166 C826.3,168 827.7,167.5 824.5,168 C821.3,168.5 822.2,168.5 820,167.5 C817.8,166.5 818.9,167.3 818,165 C817.1,162.7 817.1,163.8 817.2,160.5 C817.4,157.2 817.1,158.8 818.5,155 C819.9,151.2 819.2,152.5 821.5,149 C823.8,145.5 823,146.8 825.5,144.5 C828,142.2 827.8,142.8 829,142" fill="none" stroke-width="0.9"/>
<path d="M832,143 C832.2,144.7 833.2,144.3 832.5,148 C831.8,151.7 832.5,149.8 830,154 C827.5,158.2 828.3,157 825,160.5 C821.7,164 822.2,163.1 820,164.5 C817.8,165.9 818.8,164.7 818.2,164.8" fill="none" stroke-width="0.8"/>
<path d="M825,159.5 L831,150.5 M831,150.5 L833.5,144.5 M824,151.5 L826,152.5 M824.5,160.5 L827.5,162 M830.5,153 L833,154" fill="none" stroke-width="0.8"/>
<path d="M841,160.6 L855,168 M887.5,187.5 L976,237.5" fill="none" stroke-width="0.9" stroke-dasharray="2.8 3.2" stroke-linecap="butt"/>
<polygon points="987.5,196.2 1355.9,9.4 1378.3,15.3 1378.5,400 1250,479 1003.4,629 987.5,619.7" fill="#fff" stroke="none"/>
<path d="M987.5,196.2 L987.5,619.7 M1003.4,206 L1003.4,629 M987.5,196.2 L1003.4,206 M987.5,619.7 L1003.4,629 M987.5,196.2 L1355.9,9.4 M1003.4,206 L1378.3,15.3 M1355.9,9.4 L1378.3,15.3 M1378.5,15.3 L1378.5,328 M1003.4,629 L1243,483.1" fill="none"/>
<path d="M986.5,272.5 C983,273 981,275 980.7,279 L980.7,369 C981,373 983,375.5 986.5,376" fill="none" stroke-width="0.9"/>
<path d="M983.8,276 L983.8,372" fill="none" stroke-width="0.7" stroke="#555"/>
<circle cx="982.6" cy="294.4" r="1.1" fill="none" stroke="#222" stroke-width="0.7"/><circle cx="983" cy="368.7" r="1.1" fill="none" stroke="#222" stroke-width="0.7"/>
<polygon points="1005,292.5 1005.3,290.5 1006,288.6 1007.2,286.7 1009,284.8 1011.2,283 1014,281.3 1195,176.3 1199.1,174.1 1203.1,172.4 1207,171 1210.9,170.1 1214.7,169.6 1218.3,169.6 1221.8,169.9 1225.1,170.7 1228.2,172 1253.2,184 1255.3,185.1 1257.3,186.5 1259.2,188.1 1260.9,189.8 1262.4,191.8 1263.9,194 1265.1,196.4 1266.2,198.9 1267.1,201.6 1267.9,204.4 1268.4,207.4 1268.9,210.6 1269.1,213.8 1269.1,217.2 1269,220.7 1268.7,224.2 1268.2,227.9 1267.6,231.6 1266.8,235.3 1265.8,239.1 1264.6,242.9 1263.3,246.7 1261.9,250.5 1260.2,254.3 1258.5,258 1256.6,261.7 1254.6,265.4 1252.4,268.9 1250.1,272.4 1247.7,275.8 1245.3,279.1 1242.7,282.2 1240,285.3 1237.3,288.1 1234.5,290.8 1231.7,293.4 1228.8,295.8 1225.9,298 1222.9,300 1220,301.8 1030,412 1005,400" fill="#fff" stroke="none"/>
<polyline points="1005,292.5 1005.3,290.5 1006,288.6 1007.2,286.7 1009,284.8 1011.2,283 1014,281.3 1195,176.3 1199.1,174.1 1203.1,172.4 1207,171 1210.9,170.1 1214.7,169.6 1218.3,169.6 1221.8,169.9 1225.1,170.7 1228.2,172 1253.2,184" fill="none"/>
<polyline points="1005,292.5 1005,400 1030,412" fill="none"/>
<path d="M1005,292.5 L1030,303" fill="none"/>
<polygon points="1030,303 1030.1,301.6 1030.5,300.2 1031.1,299 1032,297.8 1033.1,296.8 1034.5,295.9 1220,188.3 1223.9,186.2 1227.7,184.5 1231.5,183.2 1235.2,182.3 1238.8,181.7 1242.3,181.5 1245.7,181.8 1248.9,182.4 1251.9,183.4 1254.8,184.8 1257.4,186.5 1259.8,188.6 1261.9,191.1 1263.8,193.9 1265.4,197 1266.7,200.4 1267.8,204.1 1268.5,208 1269,212.2 1269.1,216.5 1269,221.1 1268.5,225.8 1267.8,230.6 1266.7,235.5 1265.4,240.4 1263.8,245.4 1261.9,250.4 1259.8,255.3 1257.4,260.2 1254.8,265 1251.9,269.7 1248.9,274.2 1245.7,278.5 1242.3,282.7 1238.8,286.6 1235.2,290.2 1231.5,293.6 1227.7,296.6 1223.9,299.4 1220,301.8 1030,412" fill="none"/>
<path d="M1032.6,303 L1032.6,410 M1036,296.8 L1070,277" fill="none" stroke-width="0.8"/>
<path d="M1191.2,175.6 L1217.5,190" fill="none"/>
<path d="M1012,282 L1046,262.5 M1046,262.5 L1048,265 M1048,265 L1176,191 M1176,191 L1177.5,188.5 M1177.5,188.5 L1190.5,181" fill="none" stroke-width="0.8"/>
<path d="M1040,281.5 L1213,182 M1042,283.5 L1216,183.5" fill="none" stroke-width="0.8"/>
<polygon points="1067.5,285.5 1069,281 1072.5,279.5 1223,192.3 1226.8,190.3 1230.5,188.6 1234.2,187.4 1237.8,186.4 1241.3,185.9 1244.7,185.7 1248,186 1251.1,186.6 1254.1,187.5 1256.8,188.9 1259.4,190.6 1261.7,192.6 1263.8,195 1265.6,197.8 1267.2,200.8 1268.5,204.1 1269.5,207.7 1270.3,211.5 1270.7,215.6 1270.8,219.8 1270.7,224.2 1270.3,228.8 1269.5,233.5 1268.5,238.2 1267.2,243.1 1265.6,247.9 1263.8,252.8 1261.7,257.6 1259.4,262.3 1256.8,267 1254.1,271.5 1251.1,275.9 1248,280.2 1244.7,284.2 1241.3,288 1237.8,291.5 1234.2,294.8 1230.5,297.8 1226.8,300.5 1223,302.8 1074,393 1070,392.5 1067.5,390" fill="#fff" stroke="none"/>
<polygon points="1067.5,285.5 1069,281 1072.5,279.5 1223,192.3 1226.8,190.3 1230.5,188.6 1234.2,187.4 1237.8,186.4 1241.3,185.9 1244.7,185.7 1248,186 1251.1,186.6 1254.1,187.5 1256.8,188.9 1259.4,190.6 1261.7,192.6 1263.8,195 1265.6,197.8 1267.2,200.8 1268.5,204.1 1269.5,207.7 1270.3,211.5 1270.7,215.6 1270.8,219.8 1270.7,224.2 1270.3,228.8 1269.5,233.5 1268.5,238.2 1267.2,243.1 1265.6,247.9 1263.8,252.8 1261.7,257.6 1259.4,262.3 1256.8,267 1254.1,271.5 1251.1,275.9 1248,280.2 1244.7,284.2 1241.3,288 1237.8,291.5 1234.2,294.8 1230.5,297.8 1226.8,300.5 1223,302.8 1074,393 1070,392.5 1067.5,390" fill="none"/>
<path d="M1080,288.3 L1236.2,197.7 M1080,388.3 L1226,303.6" fill="none" stroke-width="1"/>
<path d="M1070,286.5 L1070,392 M1080,288.3 L1080,388.3" fill="none" stroke-width="1"/>
<path d="M1072.5,279.5 C1074,280 1074.5,278.1 1077,281 C1079.5,283.9 1079,285.9 1080,288.3" fill="none"/>
<path d="M1068.5,286 C1070,286.8 1069.5,288.2 1073,288.5 C1076.5,288.8 1077,287.5 1079,287" fill="none" stroke-width="0.8"/>
<path d="M1077,281.5 L1224,196.3" fill="none" stroke-width="0.8"/>
<path d="M1224,196.3 C1228,194.4 1228,192.6 1236,190.5 C1244,188.4 1240.7,188.2 1248,190 C1255.3,191.8 1252,189.3 1258,196 C1264,202.7 1262.5,199.3 1266,210 C1269.5,220.7 1267.7,222 1268.5,228" fill="none" stroke-width="0.8"/>
<path d="M1222.5,193.8 L1227.5,200" fill="none" stroke-width="0.8"/>
<path d="M1236.2,197.7 L1236.2,292.5 M1244.4,192.5 L1244.4,284.5" fill="none" stroke-width="1"/>
<ellipse cx="0" cy="0" rx="14.7" ry="18" transform="matrix(1,-0.578,0.000,1,1121.9,311.9)" vector-effect="non-scaling-stroke" fill="none" stroke-width="1.5"/>
<polyline points="1129.9,294.5 1131.4,295 1132.8,295.8 1134,297 1134.9,298.5 1135.7,300.3 1136.1,302.3 1136.3,304.6 1136.2,307.1 1135.9,309.6 1135.3,312.2 1134.4,314.9 1133.3,317.4 1132,319.9 1130.5,322.2 1128.9,324.3 1127.2,326.2 1125.4,327.8 1123.5,329 1121.6,329.9 1119.8,330.4 1118.1,330.6 1116.5,330.4 1115,329.7 1113.7,328.8" fill="none" stroke-width="0.8"/>
<path d="M1113.8,307.5 L1125,313.8 M1125,313.8 L1125.6,296.2 M1123.1,295.6 L1123.8,315 M1110,322.5 L1124.4,315 M1110.6,325 L1126.2,316.9" fill="none" stroke-width="0.8"/>
<ellipse cx="0" cy="0" rx="7.5" ry="9" transform="matrix(1,-0.578,0.000,1,1141.2,328.8)" vector-effect="non-scaling-stroke" fill="none" stroke-width="0.9"/>
<polyline points="1137.3,336.5 1137,335.8 1136.7,334.9 1136.6,334 1136.5,333 1136.6,331.9 1136.7,330.8 1137,329.6 1137.3,328.5 1137.7,327.4 1138.3,326.3 1138.8,325.3 1139.5,324.3 1140.2,323.4 1140.9,322.7 1141.7,322 1142.5,321.5 1143.3,321.1 1144.1,320.9 1144.8,320.8 1145.5,320.8 1146.2,321 1146.7,321.4 1147.3,321.9 1147.7,322.5" fill="none" stroke-width="0.7"/>
<ellipse cx="0" cy="0" rx="7.9" ry="9.2" transform="matrix(1,-0.578,0.000,1,1140.6,273)" vector-effect="non-scaling-stroke" fill="none" stroke-width="1.2"/>
<ellipse cx="0" cy="0" rx="2" ry="2.4" transform="matrix(1,-0.578,0.000,1,1140.6,273)" vector-effect="non-scaling-stroke" fill="none" stroke-width="0.8"/>
<ellipse cx="0" cy="0" rx="7.9" ry="9.2" transform="matrix(1,-0.578,0.000,1,1248,237.5)" vector-effect="non-scaling-stroke" fill="none" stroke-width="1.2"/>
<ellipse cx="0" cy="0" rx="2" ry="2.4" transform="matrix(1,-0.578,0.000,1,1248,237.5)" vector-effect="non-scaling-stroke" fill="none" stroke-width="0.8"/>
<ellipse cx="0" cy="0" rx="18" ry="21.4" transform="matrix(1,-0.578,0.000,1,1213,258.8)" vector-effect="non-scaling-stroke" fill="none" stroke-width="0.9"/>
<ellipse cx="0" cy="0" rx="13.8" ry="16.2" transform="matrix(1,-0.578,0.000,1,1210.8,259.6)" vector-effect="non-scaling-stroke" fill="none" stroke-width="1.5"/>
<ellipse cx="0" cy="0" rx="11.8" ry="14.2" transform="matrix(1,-0.578,0.000,1,1210.3,259.9)" vector-effect="non-scaling-stroke" fill="none" stroke-width="0.8"/>
<circle cx="1017" cy="307.5" r="2.8" fill="#555" stroke="#111" stroke-width="0.8"/>
<circle cx="1017" cy="392" r="2.8" fill="#555" stroke="#111" stroke-width="0.8"/>
<path d="M1005.5,317 L1024,326.5 M1024,326.5 L1024,347" fill="none" stroke-width="0.9"/>
<polygon points="996,332 1005,326 1026,334 1026,376 1006,388 996,392" fill="#fff" stroke="none"/>
<polyline points="1005.5,328.5 1016,322.5 1025,326.5" fill="none" stroke-width="0.9"/>
<polyline points="1005.5,328.5 998.5,346 1025,332.5 1025,375 998.5,390" fill="none" stroke-width="1"/>
<polyline points="1005.5,328.5 998.5,346 998.5,390" fill="none" stroke-width="2" stroke="#111"/>
<rect x="997.5" y="363" width="3.6" height="13" fill="#bbb" stroke="#333" stroke-width="0.6"/>
<ellipse cx="1009.5" cy="334.5" rx="1.7" ry="1.2" fill="#fff" stroke="#222" stroke-width="0.7"/>
<path d="M1005,391 L1025,378" fill="none" stroke-width="0.9"/>
<polygon points="1025,340 1034.5,340 1034.5,365.5 1025,366.5" fill="#fff" stroke="none"/>
<path d="M1026.9,366.9 C1032.9,363.8 1036.2,363.5 1045,357.5 C1053.8,351.5 1050.1,354.4 1053.1,348.8 C1056.1,343.1 1054.6,344.6 1054,340.6 C1053.4,336.7 1053.8,337.9 1051.2,336.9 C1048.7,335.8 1051.7,335 1046.2,337.5 C1040.8,340 1038.8,342.1 1035,344.4" fill="none" stroke-width="1"/>
<path d="M1045,357.5 C1045.4,356 1046.7,355.8 1046.2,353.1 C1045.8,350.4 1044.6,350.6 1043.8,349.4" fill="none" stroke-width="0.8"/>
<polyline points="1025.6,366.2 1031.2,367.8" fill="none" stroke-width="0.9"/>
<polyline points="1025.5,340 1025.5,366" fill="none" stroke-width="0.9"/>
<ellipse cx="1032.5" cy="353.75" rx="6" ry="7" transform="rotate(20 1032.5 353.75)" fill="#fff" stroke="#111" stroke-width="1.4"/>
<path d="M1029.5,352 L1035.5,355.5 M1031.3,357.3 L1034,350" fill="none" stroke-width="1.4"/>
<polygon points="1240,415.3 1240.1,414 1240.4,412.8 1241,411.7 1241.8,410.7 1242.8,409.8 1244,409 1446,290.8 1450.1,288.6 1454.2,286.8 1458.2,285.3 1462.1,284.3 1465.9,283.7 1469.6,283.5 1473.1,283.8 1476.5,284.5 1479.6,285.5 1482.5,287 1507.5,302.2 1509.4,303.5 1511.1,305 1512.7,306.6 1514.2,308.5 1515.5,310.5 1516.7,312.7 1517.8,315 1518.6,317.5 1519.4,320.1 1519.9,322.9 1520.3,325.8 1520.5,328.8 1520.6,331.9 1520.5,335.1 1520.2,338.4 1519.8,341.8 1519.2,345.2 1518.4,348.7 1517.5,352.3 1516.4,355.8 1515.2,359.4 1513.8,362.9 1512.3,366.5 1510.6,370.1 1508.8,373.6 1506.9,377 1504.9,380.4 1502.7,383.8 1500.5,387.1 1498.1,390.2 1495.7,393.3 1493.2,396.3 1490.5,399.1 1487.9,401.9 1485.2,404.4 1482.4,406.9 1479.6,409.2 1476.7,411.3 1473.9,413.2 1471,415 1265,535.5 1240,520.3" fill="#fff" stroke="none"/>
<polyline points="1240,415.3 1240.1,414 1240.4,412.8 1241,411.7 1241.8,410.7 1242.8,409.8 1244,409 1446,290.8 1450.1,288.6 1454.2,286.8 1458.2,285.3 1462.1,284.3 1465.9,283.7 1469.6,283.5 1473.1,283.8 1476.5,284.5 1479.6,285.5 1482.5,287 1507.5,302.2" fill="none"/>
<polygon points="1265,430.5 1265.1,429.2 1265.4,428 1266,426.9 1266.8,425.9 1267.8,425 1269,424.2 1471,306 1474.9,303.9 1478.8,302.1 1482.6,300.7 1486.3,299.7 1490,299 1493.5,298.8 1496.9,298.9 1500.2,299.3 1503.2,300.2 1506.1,301.4 1508.7,303 1511.1,305 1513.3,307.3 1515.2,309.9 1516.8,312.8 1518.2,316.1 1519.2,319.6 1520,323.3 1520.4,327.3 1520.6,331.5 1520.4,335.8 1520,340.4 1519.2,345 1518.2,349.7 1516.8,354.5 1515.2,359.4 1513.3,364.2 1511.1,369.1 1508.7,373.8 1506.1,378.5 1503.2,383.1 1500.2,387.5 1496.9,391.8 1493.5,395.9 1490,399.7 1486.3,403.4 1482.6,406.7 1478.8,409.8 1474.9,412.5 1471,415 1265,535.5" fill="none"/>
<polyline points="1242.5,523 1242.5,411 1244,408.5 1247.5,407" fill="none"/>
<polyline points="1242.5,523 1265,535.5" fill="none"/>
<polyline points="1242.5,419.4 1265,430" fill="none" stroke-width="0.9"/>
<polygon points="1240,442 1262.5,452.5 1262.5,501 1240,489.4" fill="#fff" stroke="none"/>
<polyline points="1242.5,442 1262.5,452.5 1262.5,500.6 1242.5,489.4" fill="none"/>
<polyline points="1260.5,451.5 1260.5,494.5 1244,485.5" fill="none" stroke-width="0.8"/>
<polyline points="1242.5,515 1265,527" fill="none" stroke-width="0.9"/>
<ellipse cx="0" cy="0" rx="4.2" ry="5" transform="matrix(1,-0.500,0.000,1,1253.8,435.6)" vector-effect="non-scaling-stroke" fill="none" stroke-width="1"/>
<polyline points="1254.2,440.2 1253.8,440.3 1253.5,440.3 1253.1,440.2 1252.8,440 1252.5,439.8 1252.3,439.5 1252.1,439.2 1251.9,438.8 1251.8,438.3 1251.8,437.8 1251.8,437.3 1251.8,436.8 1251.9,436.2 1252,435.7 1252.2,435.1 1252.5,434.6 1252.7,434.1 1253,433.6 1253.4,433.1 1253.7,432.8 1254.1,432.4 1254.5,432.1 1254.9,431.9 1255.3,431.8" fill="none" stroke-width="0.8"/>
<ellipse cx="0" cy="0" rx="4.2" ry="5" transform="matrix(1,-0.500,0.000,1,1253.8,510)" vector-effect="non-scaling-stroke" fill="none" stroke-width="1"/>
<polyline points="1254.2,514.6 1253.8,514.7 1253.5,514.7 1253.1,514.6 1252.8,514.4 1252.5,514.2 1252.3,513.9 1252.1,513.6 1251.9,513.2 1251.8,512.7 1251.8,512.2 1251.8,511.7 1251.8,511.2 1251.9,510.6 1252,510.1 1252.2,509.5 1252.5,509 1252.7,508.5 1253,508 1253.4,507.5 1253.7,507.2 1254.1,506.8 1254.5,506.5 1254.9,506.3 1255.3,506.2" fill="none" stroke-width="0.8"/>
<polyline points="1280,438 1280,533.5" fill="none"/>
<polyline points="1281.5,434.5 1471.5,321.5 1474.9,319.6 1478.3,318.1 1481.7,316.9 1484.9,316.1 1488.2,315.6 1491.3,315.4 1494.2,315.6 1497.1,316.1 1499.8,317 1502.3,318.2 1504.6,319.7 1506.7,321.6 1508.6,323.8 1510.3,326.2 1511.7,329 1512.9,332 1513.8,335.2 1514.5,338.7 1514.9,342.4 1515,346.3 1514.9,350.3 1514.5,354.4 1513.8,358.7 1512.9,363 1511.7,367.4 1510.3,371.9 1508.6,376.3 1506.7,380.7 1504.6,385 1502.3,389.3 1499.8,393.4 1497.1,397.4 1494.2,401.3 1491.3,404.9 1488.2,408.4 1484.9,411.6 1481.7,414.6 1478.3,417.4 1474.9,419.8 1471.5,422 1280,534 1280,533.5" fill="none"/>
<path d="M1265,432 C1265.7,429.7 1264.5,428.5 1267,425 C1269.5,421.5 1268.8,421.7 1272.5,421.5 C1276.2,421.3 1275.5,419 1278,424.5 C1280.5,430 1279.3,433.5 1280,438" fill="none" stroke-width="0.9"/>
<path d="M1444,291 L1470,306.5" fill="none"/>
<path d="M1470,306.5 C1470.7,308.3 1471.3,307.5 1472,312 C1472.7,316.5 1472,317.3 1472,320" fill="none" stroke-width="0.9"/>
<path d="M1265,535.5 L1272.5,539.5 M1272.5,539.5 L1281,536.5 M1272.5,539.5 L1478,421" fill="none" stroke-width="0.9"/>
<ellipse cx="0" cy="0" rx="16.9" ry="20.8" transform="matrix(1,-0.400,0.000,1,1344.4,444.4)" vector-effect="non-scaling-stroke" fill="none"/>
<path d="M1345.6,423.1 L1346.9,421.9 M1346.9,421.9 L1348.8,423.5 M1341.9,465 L1343.1,466.5 M1343.1,466.5 L1346.9,465 M1346.9,465 L1346.2,462.5 M1355,450 L1356.2,448.8" fill="none" stroke-width="0.9"/>
<path d="M1242.5,483.4 L1262.5,471.2" fill="none"/>
<path d="M1449,474.5 C1446.7,475.3 1446.7,474.2 1442,477 C1437.3,479.8 1439.2,478.3 1435,483 C1430.8,487.7 1432.5,485.3 1429.5,491 C1426.5,496.7 1427.3,494.3 1426,500 C1424.7,505.7 1425,503.3 1425.5,508 C1426,512.7 1425.8,510.8 1427.5,514 C1429.2,517.2 1429.5,516.3 1430.5,517.5" fill="none" stroke-width="1.3"/>
<path d="M1450,476 C1447.7,477 1447.5,476 1443,479 C1438.5,482 1440.3,480.3 1436.5,485 C1432.7,489.7 1434.1,487.5 1431.5,493 C1428.9,498.5 1429.8,496.2 1428.8,501.5 C1427.7,506.8 1427.8,504.7 1428.2,509 C1428.7,513.3 1429.4,512.7 1430,514.5" fill="none" stroke-width="0.9"/>
<path d="M1448,478.5 C1445.8,479.8 1445.7,478.8 1441.5,482.5 C1437.3,486.2 1438.8,484.5 1435.5,489.5 C1432.2,494.5 1433.3,492.7 1431.5,497.5 C1429.7,502.3 1430.5,501.8 1430,504" fill="none" stroke-width="0.8"/>
<path d="M1449,474.5 L1453,476" fill="none" stroke-width="1.2"/>
<path d="M1458,475.5 C1459.7,476.2 1459.7,475.7 1463,477.5 C1466.3,479.3 1465.6,478.7 1468,481 C1470.4,483.3 1469.2,480.8 1470.2,484.5 C1471.2,488.2 1471.1,486.8 1471,492 C1470.9,497.2 1471.3,494.7 1470,500 C1468.7,505.3 1469.7,502.8 1467,508 C1464.3,513.2 1465.7,511 1462,515.5 C1458.3,520 1460,518.2 1456,521.5 C1452,524.8 1453.7,523.6 1450,525.5 C1446.3,527.4 1448.3,526.9 1445,527.2 C1441.7,527.6 1442.8,527.8 1440,526.5 C1437.2,525.2 1438.3,525.8 1436.5,523.5 C1434.7,521.2 1435.3,523 1434.5,519.5 C1433.7,516 1434.2,515.2 1434,513" fill="none" stroke-width="0.9"/>
<path d="M1434.5,504 C1435.3,501.3 1434.8,501 1437,496 C1439.2,491 1438,493.3 1441,489 C1444,484.7 1442.3,486.7 1446,483 C1449.7,479.3 1448,480.5 1452,478 C1456,475.5 1456,476.3 1458,475.5" fill="none" stroke-width="0.9"/>
<polyline points="1431,502.5 1434.8,504.5 1434,520.5" fill="none" stroke-width="0.8"/>
<polyline points="1430.5,517.5 1434.5,521 1436.5,523.5" fill="none" stroke-width="0.9"/>
<polyline points="1467.2,480 1469.5,479.8" fill="none" stroke-width="1.2"/>
<path d="M1437,508 C1437.3,505.3 1436.5,505 1438,500 C1439.5,495 1438.7,497.5 1441.5,493 C1444.3,488.5 1442.7,490.3 1446.5,486.5 C1450.3,482.7 1449.2,483.7 1453,481.5 C1456.8,479.3 1456.3,480.5 1458,480" fill="none" stroke-width="0.8"/>
<path d="M1452.5,484.5 C1453,484.8 1452.8,485.2 1454,485.5 C1455.2,485.8 1454.2,485.1 1456,485.2 C1457.8,485.4 1457.7,485.1 1459.5,486 C1461.3,486.9 1461,486.7 1461.5,488 C1462,489.3 1460.5,488.8 1461,490 C1461.5,491.2 1461.3,490.7 1463,491.5 C1464.7,492.3 1464.2,491.8 1466,492.5 C1467.8,493.2 1467.8,492 1468.5,493.5 C1469.2,495 1468.8,494.8 1468,497 C1467.2,499.2 1468.2,499.8 1466,500 C1463.8,500.2 1463,498.3 1461.5,497.5" fill="none" stroke-width="0.9"/>
<path d="M1461.5,498 C1461,500 1461.8,500 1460,504 C1458.2,508 1459,506.5 1456,510 C1453,513.5 1452.7,513 1451,514.5" fill="none" stroke-width="0.9"/>
<path d="M1451,514.5 C1452.3,515.2 1454.3,514 1455,516.5 C1455.7,519 1454.5,520.2 1453,522 C1451.5,523.8 1452.2,522.8 1450.5,521.8 C1448.8,520.8 1449.8,520.4 1448,519 C1446.2,517.6 1447.2,518.2 1445,517.5 C1442.8,516.8 1443.3,518.2 1441.5,517 C1439.7,515.8 1440.8,515.2 1439.5,514 C1438.2,512.8 1438.2,514.5 1437.5,513.5 C1436.8,512.5 1436.8,512.8 1437.5,511 C1438.2,509.2 1438.7,509.5 1439.5,508 C1440.3,506.5 1439.8,507 1440,506.5" fill="none" stroke-width="0.9"/>
<path d="M1440,506.5 C1440.2,505.3 1439.2,506.5 1440.5,503 C1441.8,499.5 1441.5,500.2 1444,496 C1446.5,491.8 1445.8,493.2 1448,490.5 C1450.2,487.8 1449,490 1450.5,488 C1452,486 1451.8,485.7 1452.5,484.5" fill="none" stroke-width="0.9"/>
<path d="M1453.5,486.5 C1453.7,488.7 1454.5,488.5 1454,493 C1453.5,497.5 1454,495.7 1452,500 C1450,504.3 1451,502.5 1448,506 C1445,509.5 1445.7,508.7 1443,510.5 C1440.3,512.3 1441,511.2 1440,511.5" fill="none" stroke-width="0.8"/>
<path d="M1466,500 C1465.5,501.7 1466.3,501.2 1464.5,505 C1462.7,508.8 1463.7,507.7 1460.5,511.5 C1457.3,515.3 1456.8,514.8 1455,516.5" fill="none" stroke-width="0.8"/>
<path d="M1532.5,514.6 C1530.9,514.8 1532.1,514.8 1527.8,515.3 C1523.5,515.7 1525.3,514.1 1519.6,515.8 C1513.9,517.6 1516.1,516.2 1510.8,520.5 C1505.6,524.8 1507.5,522.7 1503.8,528.7 C1500.1,534.8 1501.5,532.2 1499.7,538.7 C1497.9,545.1 1499,543.4 1498.4,548 C1497.9,552.6 1498.2,550.9 1498.1,552.4" fill="none" stroke-width="0.9"/>
<path d="M1499.1,553.9 C1500.1,555.4 1500.1,555.4 1502,558.5 C1504,561.7 1502.6,560.3 1505,563.2 C1507.3,566.2 1505.8,565.1 1509.1,567.3 C1512.4,569.6 1511,568.9 1514.9,570 C1518.8,571 1517.3,570.3 1520.8,570.4 C1524.3,570.5 1523.9,570.3 1525.4,570.2" fill="none" stroke-width="0.9"/>
<polyline points="1498.1,552.4 1499.1,553.9" fill="none" stroke-width="0.9"/>
<path d="M1524.3,517.3 C1521.5,518.8 1521.2,517.5 1516.1,521.7 C1511,525.9 1512.9,523.8 1509.1,529.9 C1505.3,535.9 1506.6,533.4 1504.7,539.8 C1502.7,546.3 1503.4,543.3 1503.2,549.2 C1503,555 1502.7,552.7 1504.1,557.4 C1505.5,562.1 1506.2,561.3 1507.3,563.2" fill="none" stroke-width="0.8"/>
<path d="M1526.6,518.8 C1524.1,520.3 1523.7,519.2 1519,523.4 C1514.3,527.7 1515.9,525.8 1512.6,531.6 C1509.3,537.5 1510.6,535.5 1509.1,541 C1507.5,546.5 1508.3,545.7 1507.9,548" fill="none" stroke-width="0.8"/>
<path d="M1532.5,514.6 C1534.4,515 1534.8,514 1538.3,515.8 C1541.8,517.6 1540.3,516.2 1543,519.9 C1545.7,523.6 1544.7,521.9 1546.5,527 C1548.4,532 1547.7,530.1 1548.6,535.1 C1549.4,540.2 1549.5,537.1 1549,542.2 C1548.5,547.2 1549.1,544.9 1547.1,550.4 C1545.1,555.8 1546.3,553.7 1543,558.5 C1539.7,563.4 1541,561.7 1537.1,565 C1533.2,568.3 1535.2,566.7 1531.3,568.5 C1527.4,570.2 1527.4,569.7 1525.4,570.2" fill="none" stroke-width="0.9"/>
<path d="M1525.4,570.2 C1523.9,569.7 1523.2,570.4 1520.8,568.5 C1518.3,566.5 1519.3,567.5 1518.1,564.4 C1517,561.3 1517.4,563 1517.3,559.1 C1517.2,555.2 1516.9,557.4 1517.8,552.7 C1518.8,548 1518.2,550 1520.2,545.1 C1522.1,540.2 1521.2,542 1523.7,538.1 C1526.2,534.2 1524.9,535.9 1527.8,533.4 C1530.7,530.9 1529.2,531.7 1532.5,530.5 C1535.8,529.2 1534.6,529.2 1537.7,529.6 C1540.9,530 1539.6,529.4 1541.8,531.6 C1544.1,533.9 1543.6,534.8 1544.5,536.3" fill="none" stroke-width="0.8"/>
<path d="M1538.9,530.5 C1540.3,531.2 1540.8,530.3 1543,532.8 C1545.2,535.3 1544.7,534.6 1545.6,538.1 C1546.6,541.6 1546.4,539.2 1545.9,543.3 C1545.4,547.4 1546.3,545.3 1544.2,550.4 C1542,555.4 1543,554.3 1539.5,558.5 C1536,562.8 1537.9,561.1 1533.6,563.2 C1529.3,565.4 1530.5,565 1526.6,565 C1522.7,565 1524.2,565.4 1521.9,563.2 C1519.6,561.1 1520.5,562.4 1519.7,558.5 C1518.9,554.6 1518.9,556.2 1519.6,551.5 C1520.3,546.8 1519.6,549.2 1521.9,544.5 C1524.3,539.8 1523.1,541.5 1526.6,537.5 C1530.1,533.5 1528.4,534.9 1532.5,532.5 C1536.6,530.2 1536.8,531.1 1538.9,530.5" fill="none" stroke-width="0.9"/>
<path d="M1538.9,531.6 C1539,533.6 1539.6,533.6 1539.2,537.5 C1538.8,541.4 1540,538.3 1537.7,543.3 C1535.5,548.4 1536.2,547.6 1532.5,552.7 C1528.8,557.8 1530,555.9 1526.6,558.5 C1523.2,561.2 1523.7,559.9 1522.2,560.6" fill="none" stroke-width="0.8"/>
<polygon points="1521.1,548.9 1530.1,540.7 1531.9,539.8 1531.3,542.8 1522.5,547.4" fill="none" stroke-width="0.8"/>
<path d="M1525.4,524 C1526.8,523.1 1527,521.1 1529.5,521.1 C1532.1,521.1 1532.1,521.9 1533.1,524 C1534,526.2 1534.2,525.8 1532.5,527.5 C1530.7,529.3 1530.1,530.5 1527.8,529.3 C1525.4,528.1 1526.2,525.8 1525.4,524" fill="none" stroke-width="0.8"/>
<path d="M1507.3,553.3 C1508.3,552.3 1508.1,550.9 1510.2,550.4 C1512.4,549.8 1512.4,549.4 1513.7,551.5 C1515.1,553.7 1515.9,554.4 1514.3,556.8 C1512.8,559.1 1511.4,559.7 1509.1,558.5 C1506.7,557.4 1507.9,555 1507.3,553.3" fill="none" stroke-width="0.8"/>
<path d="M1536,522.3 L1540.1,524 M1540.1,524 L1543,527 M1514.3,556.8 L1517.3,559.7 M1509.1,558.5 L1511.4,563.2" fill="none" stroke-width="0.8"/>
<path d="M1130,313.5 L1258.8,387.8 M1340.6,443 L1427,490" fill="none" stroke-width="0.9" stroke-dasharray="2.8 3.2" stroke-linecap="butt"/>
<polygon points="1227.8,330.9 1257.8,335 1251.9,338.4 1293.4,363.1 1281.6,369.4 1239.7,345 1230,350.6" fill="#161616" stroke="none"/>
<polygon points="1429.4,538.8 1458.8,542.5 1450,548.8 1495,570.6 1483,576.9 1440,553.8 1431.9,557.5" fill="#161616" stroke="none"/>
<path d="M645.6,776.2 L645.6,1096 M660.6,784.4 L660.6,1097 M645.6,776.2 L660.6,784.4 M645.6,776.2 L905,644.2 M660.6,784.4 L933.8,645 M994,661 L994,887 M994,913.8 L994,937.5 M760,1096 L903.8,1003.8" fill="none"/>
<polyline points="645.6,839 637,845.5 637,958 645.6,963" fill="none" stroke-width="0.9"/>
<path d="M638.8,846 L638.8,959" fill="none" stroke-width="0.7" stroke="#555"/>
<circle cx="641.3" cy="863.8" r="1.2" fill="none" stroke="#222" stroke-width="0.7"/><circle cx="641.3" cy="933" r="1.2" fill="none" stroke="#222" stroke-width="0.7"/>
<polygon points="660.9,868.7 661,867.4 661.3,866.2 661.9,865.1 662.7,864.1 663.7,863.2 664.9,862.3 843,756.9 846.7,754.8 850.5,753.1 854.1,751.8 857.7,750.8 861.2,750.2 864.6,749.9 867.8,750 870.9,750.5 873.7,751.4 876.4,752.7 878.8,754.3 899.8,770.6 901.2,771.8 902.6,773.2 903.8,774.8 905,776.5 905.9,778.4 906.8,780.3 907.5,782.4 908.1,784.6 908.6,787 908.9,789.4 909.1,791.9 909.1,794.6 909,797.3 908.8,800 908.4,802.9 907.9,805.8 907.2,808.7 906.4,811.7 905.5,814.7 904.5,817.7 903.3,820.7 902,823.8 900.6,826.8 899.1,829.8 897.4,832.8 895.7,835.7 893.9,838.6 892,841.4 889.9,844.2 887.8,846.9 885.7,849.5 883.4,852.1 881.1,854.5 878.8,856.8 876.4,859 874,861.1 871.5,863.1 869,864.9 866.5,866.6 864,868.2 681.9,976 660.9,959.7" fill="#fff" stroke="none"/>
<polyline points="660.9,868.7 661,867.4 661.3,866.2 661.9,865.1 662.7,864.1 663.7,863.2 664.9,862.3 843,756.9 846.7,754.8 850.5,753.1 854.1,751.8 857.7,750.8 861.2,750.2 864.6,749.9 867.8,750 870.9,750.5 873.7,751.4 876.4,752.7 878.8,754.3 899.8,770.6" fill="none"/>
<polygon points="681.9,885 682,883.7 682.3,882.5 682.9,881.4 683.7,880.4 684.7,879.5 685.9,878.6 864,773.2 867.5,771.2 871.1,769.6 874.5,768.3 877.9,767.3 881.3,766.6 884.5,766.2 887.6,766.2 890.5,766.6 893.3,767.2 895.9,768.2 898.3,769.5 900.5,771.2 902.5,773.1 904.2,775.3 905.7,777.8 906.9,780.6 907.9,783.6 908.6,786.9 909,790.3 909.1,794 909,797.8 908.6,801.7 907.9,805.8 906.9,810 905.7,814.2 904.2,818.5 902.5,822.7 900.5,827 898.3,831.2 895.9,835.4 893.3,839.5 890.5,843.4 887.6,847.2 884.5,850.9 881.3,854.4 877.9,857.6 874.5,860.6 871.1,863.4 867.5,866 864,868.2 681.9,976" fill="none"/>
<polyline points="662.5,865 662.5,960 681.9,974.6" fill="none"/>
<path d="M662.8,863.2 L682.2,877.5" fill="none"/>
<polyline points="694.4,890 694.4,975" fill="none"/>
<polyline points="696,887 865.4,784.8 868.5,783.1 871.5,781.7 874.5,780.6 877.4,779.8 880.3,779.3 883.1,779.1 885.7,779.2 888.3,779.7 890.7,780.4 892.9,781.4 895,782.8 896.9,784.4 898.6,786.2 900.1,788.4 901.4,790.8 902.4,793.4 903.3,796.3 903.9,799.3 904.2,802.6 904.3,806 904.2,809.5 903.9,813.2 903.3,816.9 902.4,820.8 901.4,824.7 900.1,828.6 898.6,832.5 896.9,836.4 895,840.2 892.9,844 890.7,847.7 888.3,851.3 885.7,854.7 883.1,858 880.3,861.1 877.4,864 874.5,866.7 871.5,869.1 868.5,871.3 865.4,873.3 694.4,974.5 694.4,975" fill="none"/>
<path d="M681.9,885 C682.4,882.8 681.3,881.7 683.5,878.5 C685.7,875.3 685.3,875.5 688.5,875.3 C691.7,875.1 691,873.1 693,878 C695,882.9 693.9,886 694.4,890" fill="none" stroke-width="0.9"/>
<path d="M841,758.5 L864,772" fill="none"/>
<path d="M864,772 C864.7,773.7 865.5,773 866,777 C866.5,781 865.7,781.7 865.5,784" fill="none" stroke-width="0.9"/>
<path d="M681.9,974.6 L688,980 M688,980 L695.5,977 M688,980 L866,875" fill="none" stroke-width="0.9"/>
<ellipse cx="671.2" cy="888.0" rx="4.6" ry="5.4" transform="rotate(-20 671.2 888.0)" fill="#fff" stroke="#111" stroke-width="1.2"/>
<path d="M668.8,886.5 L673.8,889.5 M670.2,890.5 L672.2,885.5" fill="none" stroke-width="1.1"/>
<ellipse cx="671.2" cy="954.4" rx="4.6" ry="5.4" transform="rotate(-20 671.2 954.4)" fill="#fff" stroke="#111" stroke-width="1.2"/>
<path d="M668.8,952.9 L673.8,955.9 M670.2,956.9 L672.2,951.9" fill="none" stroke-width="1.1"/>
<path d="M662.5,893.5 L680,903 M680,903 L680,948" fill="none" stroke-width="0.9"/>
<polygon points="655,918 665,899 681,904 681,946 660,958 655,958" fill="#fff" stroke="none"/>
<polyline points="665,900 671.2,897.5 680,903.1" fill="none" stroke-width="0.9"/>
<polyline points="665,900 656.2,918.8 680,909.4 680,946.2 656.2,957.5" fill="none" stroke-width="1"/>
<polyline points="665,900 656.2,918.8 656.2,957.5" fill="none" stroke-width="2" stroke="#111"/>
<rect x="655.3" y="932" width="3.8" height="13" fill="#bbb" stroke="#333" stroke-width="0.6"/>
<ellipse cx="666" cy="907" rx="1.6" ry="1.2" fill="#fff" stroke="#222" stroke-width="0.7"/>
<path d="M697.5,863.8 L735,885 M690,872.5 L730,896.2 M693.8,867.8 L732.5,890" fill="none" stroke-width="0.9" stroke-dasharray="2 1.6" stroke-linecap="butt"/>
<path d="M690,872.5 C689.8,870.6 688.5,869.8 689.4,866.9 C690.2,864 689.8,864.8 692.5,863.8 C695.2,862.7 695.8,863.8 697.5,863.8" fill="none" stroke-width="0.9" stroke-dasharray="2 1.6" stroke-linecap="butt"/>
<polyline points="764.8,891.7 764.8,895.1 764.6,897.4 764.4,899.3 764,901.1 763.6,902.8 763.1,904.4 762.4,905.9 761.7,907.3 760.9,908.7 760,910 759,911.2 757.8,912.4 756.6,913.5 755.3,914.6 753.8,915.7 752.1,916.7 750.1,917.7 747,919.2 743.9,920.5 741.9,921.3 740.2,921.8 738.7,922.1 737.4,922.2 736.2,922.2 735,922 734,921.7 733.1,921.2 732.3,920.5 731.6,919.8 730.9,918.8 730.4,917.7 730,916.4 729.6,914.9 729.4,913.2 729.2,911.1 729.2,907.7 729.2,904.3 729.4,902 729.6,900.1 730,898.3 730.4,896.6 730.9,895 731.6,893.5 732.3,892.1 733.1,890.7 734,889.4 735,888.2 736.2,887 737.4,885.9 738.7,884.8 740.2,883.7 741.9,882.7 743.9,881.7 747,880.2 750.1,878.9 752.1,878.1 753.8,877.6 755.3,877.3 756.6,877.2 757.8,877.2 759,877.4 760,877.7 760.9,878.2 761.7,878.9 762.4,879.6 763.1,880.6 763.6,881.7 764,883 764.4,884.5 764.6,886.2 764.8,888.3 764.8,891.7" fill="none" stroke-width="1"/>
<polyline points="733.2,899.1 733.4,898.2 733.7,897.3 734,896.4 734.3,895.5 734.7,894.7 735,893.9 735.5,893.1 735.9,892.4 736.4,891.6 736.9,890.9 737.5,890.2 738.1,889.5 738.7,888.9 739.3,888.2 740,887.6 740.8,887 741.6,886.4 742.4,885.9 743.3,885.3 744.3,884.7 745.4,884.2 746.7,883.5 748.9,882.5 750.6,881.8 751.8,881.3 752.9,880.9 753.9,880.6 754.7,880.4 755.6,880.2 756.4,880.1 757.1,880 757.8,880 758.4,880.1 759,880.2 759.6,880.3 760.2,880.5 760.7,880.8 761.2,881.1 761.6,881.5 762,881.9 762.4,882.3 762.8,882.8 763.1,883.4 763.4,884 763.6,884.7 763.8,885.5 764,886.3 764.2,887.2 764.3,888.2 764.4,889.3 764.5,890.6 764.5,892.2 764.5,894.9 764.5,896.4 764.4,897.7 764.3,898.9 764.2,900 764,901 763.8,902 763.6,902.9 763.3,903.8 763,904.7 762.7,905.5 762.3,906.4 761.9,907.2 761.5,908 761,908.7 760.5,909.4 760,910.2 759.5,910.8 758.9,911.5 758.3,912.2" fill="none" stroke-width="0.8"/>
<ellipse cx="0" cy="0" rx="12" ry="14.6" transform="matrix(1,-0.450,0.000,1,748.5,901)" vector-effect="non-scaling-stroke" fill="none"/>
<polyline points="758.7,891.3 759.4,892.9 759.8,894.7 760,896.7 759.9,898.9 759.5,901.1 758.9,903.3 758,905.5 756.9,907.6 755.6,909.5 754.1,911.2 752.5,912.6 750.9,913.7 749.2,914.4 747.6,914.8 746,914.8 744.5,914.5 743.2,913.8 742.1,912.7 741.2,911.4 740.5,909.7 740.1,907.9 740,905.8 740.2,903.6 740.6,901.4" fill="none" stroke-width="0.8"/>
<polyline points="758.5,902.2 758.2,903.6 757.6,905 757,906.3 756.3,907.5 755.5,908.6 754.7,909.6 753.8,910.5 752.8,911.3 751.8,911.8 750.8,912.3 749.9,912.5 748.9,912.6 748,912.4 747.2,912.1 746.4,911.7 745.8,911 745.2,910.2 744.7,909.3 744.3,908.2 744.1,907.1 744,905.8 744,904.5 744.2,903.1 744.5,901.8" fill="none" stroke-width="0.7"/>
<polygon points="743.8,891.2 778.8,910 781.2,916.2 772.5,921.2 740,902.5" fill="#fff" stroke="none"/>
<path d="M743.8,891.2 L778.1,909.8 M740,902.5 L772.2,921 M741.9,896.9 L771.2,913.1" fill="none" stroke-width="1"/>
<ellipse cx="776.2" cy="916.2" rx="4.6" ry="6.6" transform="rotate(25 776.2 916.2)" fill="#fff" stroke="#111" stroke-width="1"/>
<path d="M772.2,921 C771.5,919.6 770.3,919.5 770,916.9 C769.7,914.2 769.6,915.6 771.2,913.1 C772.9,910.6 772.7,910.5 775,909.4 C777.3,908.2 777.1,909.6 778.1,909.8" fill="none" stroke-width="0.8"/>
<circle cx="774.8" cy="918" r="1.5" fill="none" stroke="#222" stroke-width="0.7"/>
<path d="M660.6,784.4 L660.6,902 M660.6,957.5 L660.6,1097" fill="none"/>
<path d="M541.9,795 C537.1,792.1 536,792.9 527.5,786.2 C519,779.6 522.3,782.9 516.2,775 C510.2,767.1 512.3,770 509.4,762.5 C506.5,755 507.3,759.6 507.5,752.5 C507.7,745.4 506.2,748.8 510,741.2 C513.8,733.8 511.2,736.7 518.8,730 C526.2,723.3 522.1,727.5 532.5,721.2 C542.9,715 537.5,718.3 550,711.2 C562.5,704.2 557.5,706.5 570,700 C582.5,693.5 575.8,696 587.5,691.9 C599.2,687.7 593.3,689.3 605,687.5 C616.7,685.7 610.8,685.9 622.5,686.5 C634.2,687.1 628.8,686.3 640,689.4 C651.2,692.4 647.1,691.5 656.2,695.6 C665.4,699.8 663.8,699.8 667.5,701.9" fill="none"/>
<path d="M652.5,726.9 C648.3,724.6 648.3,723.5 640,720 C631.7,716.5 635.8,717.8 627.5,716.5 C619.2,715.2 623.3,715.5 615,716 C606.7,716.5 610.8,715.5 602.5,718.1 C594.2,720.7 600.4,718.3 590,723.8 C579.6,729.2 583.8,727.3 571.2,734.4 C558.8,741.5 562.9,739 552.5,745 C542.1,751 545.1,748.8 540,752.5 C534.9,756.2 537.2,753.5 537.2,756.2 C537.2,759 536.2,757.3 540,760.6 C543.8,764 542.9,762.7 548.8,766.2 C554.6,769.8 553.1,768.5 557.5,771.2 C561.9,774 560.4,773.3 561.9,774.4" fill="none"/>
<ellipse cx="660.6" cy="715" rx="9.6" ry="14.2" transform="rotate(28 660.6 715)" fill="#fff" stroke="#1c1c1c" stroke-width="1.1"/>
<ellipse cx="661.6" cy="715.4" rx="8.2" ry="12.8" transform="rotate(28 661.6 715.4)" fill="none" stroke="#1c1c1c" stroke-width="0.8"/>
<path d="M552.5,770 C550.2,771.7 549.2,770 545.6,775 C542.1,780 542.7,778.3 541.9,785 C541,791.7 541.7,790.6 543.1,795 C544.6,799.4 545.2,797.1 546.2,798.1" fill="none"/>
<path d="M555,771.9 C552.9,773.3 552.1,771.9 548.8,776.2 C545.4,780.6 545.8,779.2 545,785 C544.2,790.8 545,789.7 546.2,793.8 C547.5,797.8 547.9,796.1 548.8,797.2" fill="none" stroke-width="0.8"/>
<path d="M555,771.9 L561.9,776.2 M548.8,797.2 L555.6,799.4" fill="none"/>
<path d="M561.9,776.2 C560,777.5 559.4,775.8 556.2,780 C553.1,784.2 552.7,782.3 552.5,788.8 C552.3,795.2 554.6,795.8 555.6,799.4" fill="none" stroke-width="0.9"/>
<ellipse cx="560.6" cy="789.4" rx="6.6" ry="10.8" transform="rotate(28 560.6 789.4)" fill="#fff" stroke="#1c1c1c" stroke-width="1.0"/>
<polygon points="555,788.8 562.5,783.1 565.6,788.8 558.1,794.4" fill="none" stroke-width="0.9"/>
<ellipse cx="535.6" cy="786.3" rx="2.4" ry="3.3" transform="rotate(-20 535.6 786.3)" fill="#444" stroke="#111" stroke-width="1"/>
<path d="M527.5,786.2 L528.8,788.1" fill="none" stroke-width="0.7"/>
<ellipse cx="0" cy="0" rx="15" ry="16.2" transform="matrix(1,-0.450,0.000,1,615,825)" vector-effect="non-scaling-stroke" fill="none"/>
<ellipse cx="0" cy="0" rx="12.4" ry="13.6" transform="matrix(1,-0.450,0.000,1,616.3,826.8)" vector-effect="non-scaling-stroke" fill="none"/>
<polyline points="607.4,835.9 606.8,834.8 606.3,833.4 606,831.9 605.9,830.3 606,828.6 606.3,826.9 606.8,825.1 607.4,823.3 608.3,821.6 609.2,819.9 610.4,818.3 611.6,816.9 612.9,815.5 614.3,814.4 615.8,813.4 617.3,812.6 618.8,812 620.3,811.7 621.7,811.6 623,811.7 624.2,812.1 625.4,812.7 626.3,813.5 627.2,814.5" fill="none" stroke-width="0.8"/>
<polyline points="627.7,828 627.1,829.6 626.5,831.2 625.7,832.8 624.8,834.3 623.8,835.7 622.7,837.1 621.5,838.3 620.2,839.5 618.9,840.5 617.6,841.4 616.3,842.1 614.9,842.6 613.6,843 612.3,843.2 611,843.3 609.8,843.2 608.7,842.9 607.6,842.4 606.7,841.8 605.8,841 605.1,840 604.5,839 604.1,837.8 603.8,836.5" fill="none" stroke-width="0.8"/>
<path d="M612.5,802 L613,808.5" fill="none" stroke-width="0.8"/>
<path d="M565,795 L600.5,815 M612,823 L621,828.5 M628,836 L643,845" fill="none" stroke-width="0.9" stroke-dasharray="2.8 3.2" stroke-linecap="butt"/>
<path d="M866.2,953.8 C868.3,953.3 867.9,951.7 872.5,952.5 C877.1,953.3 873.3,952.5 880,956.2 C886.7,960 885.8,960 892.5,963.8 C899.2,967.5 893.3,965.2 900,967.5 C906.7,969.8 904.2,969.6 912.5,970.6 C920.8,971.7 916.7,971.5 925,970.6 C933.3,969.8 929.2,970.8 937.5,968.1 C945.8,965.4 941.7,966.7 950,962.5 C958.3,958.3 954.2,960.4 962.5,955.6 C970.8,950.8 966.7,952.9 975,948.1 C983.3,943.3 979.2,946 987.5,941.2 C995.8,936.5 993.3,937.7 1000,933.8 C1006.7,929.8 1004,932.3 1007.5,929.4 C1011,926.5 1010.2,927.7 1010.6,925 C1011,922.3 1011.5,924 1008.8,921.2 C1006,918.5 1007.1,919.6 1002.5,916.9 C997.9,914.2 999,915.8 995,913.1 C991,910.4 992.6,912.3 990.6,908.8 C988.6,905.2 989.2,907.1 989,902.5 C988.8,897.9 988.4,899.8 990,895 C991.6,890.2 990.4,892.1 993.8,888.1 C997.1,884.2 996.2,885.2 1000,883.1 C1003.8,881 1003.3,882.3 1005,881.9 L1005,881.9 C1007.5,882.7 1006.7,881.5 1012.5,884.4 C1018.3,887.3 1015.8,885.8 1022.5,890.6 C1029.2,895.4 1026.7,892.7 1032.5,898.8 C1038.3,904.8 1036.2,902.1 1040,908.8 C1043.8,915.4 1042.3,912.1 1043.8,918.8 C1045.2,925.4 1045.2,921.7 1044.4,928.8 C1043.5,935.8 1044.4,932.9 1041.2,940 C1038.1,947.1 1040.4,943.8 1035,950 C1029.6,956.2 1032.5,952.9 1025,958.8 C1017.5,964.6 1020.8,962.1 1012.5,967.5 C1004.2,972.9 1008.3,970 1000,975 C991.7,980 995.8,977.5 987.5,982.5 C979.2,987.5 983.3,985.4 975,990 C966.7,994.6 970.8,992.7 962.5,996.2 C954.2,999.8 958.3,998.2 950,1000.6 C941.7,1003 945.8,1002.2 937.5,1003.5 C929.2,1004.8 933.3,1004.4 925,1004.4 C916.7,1004.4 923.3,1004.5 912.5,1003.5 C901.7,1002.5 903.3,1003.5 892.5,1001.2 C881.7,999 888.3,1000.6 880,996.9 C871.7,993.1 875.2,994.6 867.5,990 C859.8,985.4 860.4,985.4 856.9,983.1Z" fill="#fff" stroke="none"/>
<path d="M866.2,953.8 C868.3,953.3 867.9,951.7 872.5,952.5 C877.1,953.3 873.3,952.5 880,956.2 C886.7,960 885.8,960 892.5,963.8 C899.2,967.5 893.3,965.2 900,967.5 C906.7,969.8 904.2,969.6 912.5,970.6 C920.8,971.7 916.7,971.5 925,970.6 C933.3,969.8 929.2,970.8 937.5,968.1 C945.8,965.4 941.7,966.7 950,962.5 C958.3,958.3 954.2,960.4 962.5,955.6 C970.8,950.8 966.7,952.9 975,948.1 C983.3,943.3 979.2,946 987.5,941.2 C995.8,936.5 993.3,937.7 1000,933.8 C1006.7,929.8 1004,932.3 1007.5,929.4 C1011,926.5 1010.2,927.7 1010.6,925 C1011,922.3 1011.5,924 1008.8,921.2 C1006,918.5 1007.1,919.6 1002.5,916.9 C997.9,914.2 999,915.8 995,913.1 C991,910.4 992.6,912.3 990.6,908.8 C988.6,905.2 989.2,907.1 989,902.5 C988.8,897.9 988.4,899.8 990,895 C991.6,890.2 990.4,892.1 993.8,888.1 C997.1,884.2 996.2,885.2 1000,883.1 C1003.8,881 1003.3,882.3 1005,881.9" fill="none"/>
<path d="M856.9,983.1 C860.4,985.4 859.8,985.4 867.5,990 C875.2,994.6 871.7,993.1 880,996.9 C888.3,1000.6 881.7,999 892.5,1001.2 C903.3,1003.5 901.7,1002.5 912.5,1003.5 C923.3,1004.5 916.7,1004.4 925,1004.4 C933.3,1004.4 929.2,1004.8 937.5,1003.5 C945.8,1002.2 941.7,1003 950,1000.6 C958.3,998.2 954.2,999.8 962.5,996.2 C970.8,992.7 966.7,994.6 975,990 C983.3,985.4 979.2,987.5 987.5,982.5 C995.8,977.5 991.7,980 1000,975 C1008.3,970 1004.2,972.9 1012.5,967.5 C1020.8,962.1 1017.5,964.6 1025,958.8 C1032.5,952.9 1029.6,956.2 1035,950 C1040.4,943.8 1038.1,947.1 1041.2,940 C1044.4,932.9 1043.5,935.8 1044.4,928.8 C1045.2,921.7 1045.2,925.4 1043.8,918.8 C1042.3,912.1 1043.8,915.4 1040,908.8 C1036.2,902.1 1038.3,904.8 1032.5,898.8 C1026.7,892.7 1029.2,895.4 1022.5,890.6 C1015.8,885.8 1018.3,887.3 1012.5,884.4 C1006.7,881.5 1007.5,882.7 1005,881.9" fill="none"/>
<path d="M857.5,951.9 C855,953.3 853.3,951.9 850,956.2 C846.7,960.6 847.1,959.2 847.5,965 C847.9,970.8 848.8,970.2 851.2,973.8 C853.8,977.3 850,981.9 855,975.6 C860,969.4 862.5,961.9 866.2,955Z" fill="#fff" stroke="none"/>
<path d="M857.5,951.9 C855,953.3 853.3,951.9 850,956.2 C846.7,960.6 847.1,959.2 847.5,965 C847.9,970.8 850,970.8 851.2,973.8" fill="none"/>
<path d="M857.5,951.9 L866.2,955 M851.2,973.8 L855.4,976" fill="none"/>
<path d="M866.2,954.8 C864.2,956.9 863.3,955.3 860,961.2 C856.7,967.2 857.3,965.2 856.2,972.5 C855.2,979.8 856.7,979.6 856.9,983.1" fill="none" stroke-width="0.9"/>
<ellipse cx="860" cy="978" rx="2.6" ry="3.4" transform="rotate(-25 860 978)" fill="#555" stroke="#111" stroke-width="1"/>
<ellipse cx="0" cy="0" rx="22.2" ry="24" transform="matrix(1,-0.450,0.000,1,819,941.2)" vector-effect="non-scaling-stroke" fill="none"/>
<polyline points="821.2,962.5 817.8,964.4 814.4,965.7 811.1,966.4 807.9,966.6 805,966.1 802.3,965 800,963.4 798.1,961.3 796.6,958.6 795.6,955.5 795.1,952.1 795.2,948.5 795.7,944.6 796.8,940.6 798.3,936.7 800.3,932.8 802.7,929.1 805.4,925.7 808.4,922.7 811.6,920 814.9,917.8 818.3,916.2 821.6,915.1 824.9,914.6" fill="none" stroke-width="0.9"/>
<ellipse cx="0" cy="0" rx="13.4" ry="16.6" transform="matrix(1,-0.450,0.000,1,821.5,942.8)" vector-effect="non-scaling-stroke" fill="none" stroke-width="1.7"/>
<path d="M840,920.6 L841.2,921.9" fill="none" stroke-width="0.7"/>
<path d="M796.2,928.8 L847.5,957.5" fill="none" stroke-width="0.9" stroke-dasharray="2.8 3.2" stroke-linecap="butt"/>
<polygon points="559.1,830.6 547.8,837.2 586.9,862.8 578.8,867.8 617.2,873.1 607.8,852.2 599.4,856.6" fill="#161616" stroke="none"/>
<polygon points="848.8,1004.4 886.9,1008.8 878.8,1014.7 918.4,1039.1 907.5,1045.6 867.5,1020.3 858.8,1025" fill="#161616" stroke="none"/>
</svg>
</body></html>
